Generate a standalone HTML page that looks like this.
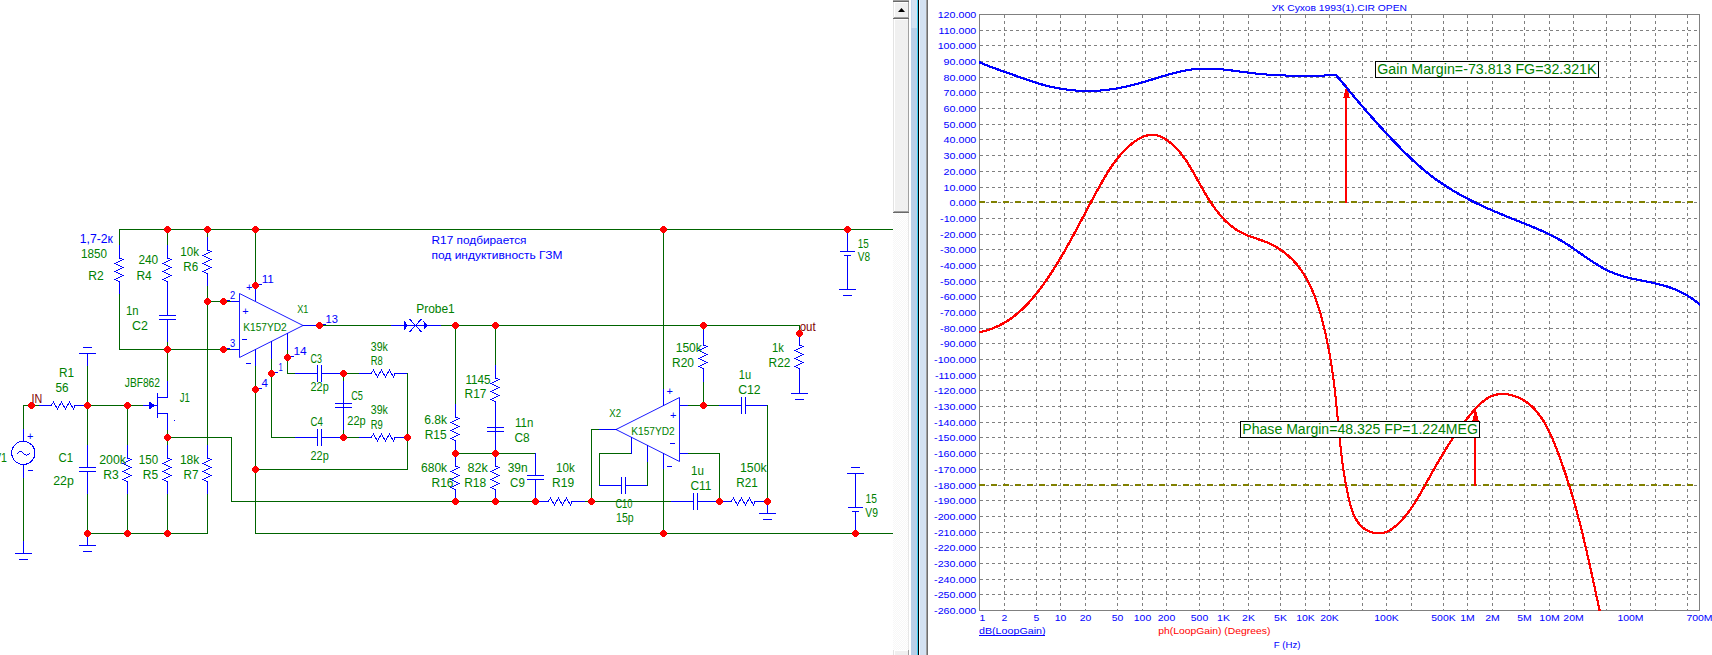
<!DOCTYPE html>
<html><head><meta charset="utf-8"><title>Micro-Cap</title>
<style>
html,body{margin:0;padding:0;background:#ffffff;width:1712px;height:655px;overflow:hidden}
svg{display:block}
text{font-family:"Liberation Sans",sans-serif}
</style></head><body>
<svg width="1712" height="655" viewBox="0 0 1712 655" font-family='"Liberation Sans", sans-serif'>
<rect x="0" y="0" width="1712" height="655" fill="#ffffff"/>
<g shape-rendering="crispEdges">
<rect x="119" y="229" width="774" height="1" fill="#006400"/>
<rect x="119" y="229" width="1" height="16" fill="#006400"/>
<rect x="119" y="294" width="1" height="56" fill="#006400"/>
<rect x="119" y="349" width="112" height="1" fill="#006400"/>
<rect x="231" y="349" width="8" height="1" fill="#0000ff"/>
<rect x="167" y="229" width="1" height="16" fill="#006400"/>
<rect x="167" y="342" width="1" height="39" fill="#006400"/>
<rect x="167" y="381" width="1" height="17" fill="#0000ff"/>
<rect x="157" y="397" width="11" height="1" fill="#0000ff"/>
<rect x="157" y="393" width="1" height="25" fill="#0000ff"/>
<rect x="157" y="413" width="11" height="1" fill="#0000ff"/>
<rect x="167" y="413" width="1" height="17" fill="#0000ff"/>
<rect x="167" y="430" width="1" height="15" fill="#006400"/>
<rect x="167" y="494" width="1" height="40" fill="#006400"/>
<rect x="167" y="437" width="65" height="1" fill="#006400"/>
<rect x="231" y="437" width="1" height="65" fill="#006400"/>
<rect x="231" y="501" width="305" height="1" fill="#006400"/>
<rect x="87" y="353" width="1" height="13" fill="#0000ff"/>
<rect x="87" y="366" width="1" height="79" fill="#006400"/>
<rect x="87" y="494" width="1" height="40" fill="#006400"/>
<rect x="87" y="533" width="1" height="13" fill="#0000ff"/>
<rect x="23" y="405" width="16" height="1" fill="#006400"/>
<rect x="87" y="405" width="56" height="1" fill="#006400"/>
<rect x="143" y="405" width="15" height="1" fill="#0000ff"/>
<rect x="23" y="405" width="1" height="24" fill="#006400"/>
<rect x="23" y="429" width="1" height="13" fill="#0000ff"/>
<rect x="23" y="464" width="1" height="14" fill="#0000ff"/>
<rect x="23" y="478" width="1" height="63" fill="#006400"/>
<rect x="23" y="541" width="1" height="13" fill="#0000ff"/>
<rect x="127" y="405" width="1" height="40" fill="#006400"/>
<rect x="127" y="494" width="1" height="40" fill="#006400"/>
<rect x="87" y="533" width="121" height="1" fill="#006400"/>
<rect x="207" y="229" width="1" height="8" fill="#006400"/>
<rect x="207" y="286" width="1" height="159" fill="#006400"/>
<rect x="207" y="494" width="1" height="40" fill="#006400"/>
<rect x="207" y="301" width="24" height="1" fill="#006400"/>
<rect x="231" y="301" width="8" height="1" fill="#0000ff"/>
<rect x="255" y="229" width="1" height="57" fill="#006400"/>
<rect x="255" y="286" width="1" height="15" fill="#0000ff"/>
<rect x="255" y="349" width="1" height="17" fill="#0000ff"/>
<rect x="255" y="366" width="1" height="168" fill="#006400"/>
<rect x="255" y="533" width="638" height="1" fill="#006400"/>
<rect x="271" y="341" width="1" height="18" fill="#0000ff"/>
<rect x="271" y="359" width="1" height="79" fill="#006400"/>
<rect x="271" y="437" width="24" height="1" fill="#006400"/>
<rect x="287" y="333" width="1" height="17" fill="#0000ff"/>
<rect x="287" y="350" width="1" height="24" fill="#006400"/>
<rect x="287" y="373" width="8" height="1" fill="#006400"/>
<rect x="295" y="373" width="23" height="1" fill="#0000ff"/>
<rect x="321" y="373" width="23" height="1" fill="#0000ff"/>
<rect x="317" y="365" width="1" height="17" fill="#0000ff"/>
<rect x="321" y="365" width="1" height="17" fill="#0000ff"/>
<rect x="295" y="437" width="23" height="1" fill="#0000ff"/>
<rect x="321" y="437" width="23" height="1" fill="#0000ff"/>
<rect x="317" y="429" width="1" height="17" fill="#0000ff"/>
<rect x="321" y="429" width="1" height="17" fill="#0000ff"/>
<rect x="343" y="373" width="1" height="8" fill="#006400"/>
<rect x="343" y="381" width="1" height="49" fill="#0000ff"/>
<rect x="343" y="430" width="1" height="8" fill="#006400"/>
<rect x="335" y="403" width="17" height="1" fill="#0000ff"/>
<rect x="335" y="407" width="17" height="1" fill="#0000ff"/>
<rect x="344" y="373" width="15" height="1" fill="#006400"/>
<rect x="344" y="437" width="15" height="1" fill="#006400"/>
<rect x="359" y="373" width="12" height="1" fill="#0000ff"/>
<polyline points="371.00,373.50 373.50,370.00 377.50,377.00 381.50,370.00 385.50,377.00 389.50,370.00 393.50,377.00 395.00,373.50" fill="none" stroke="#0000ff" stroke-width="1" stroke-linejoin="miter"/>
<rect x="395" y="373" width="13" height="1" fill="#0000ff"/>
<rect x="359" y="437" width="12" height="1" fill="#0000ff"/>
<polyline points="371.00,437.50 373.50,434.00 377.50,441.00 381.50,434.00 385.50,441.00 389.50,434.00 393.50,441.00 395.00,437.50" fill="none" stroke="#0000ff" stroke-width="1" stroke-linejoin="miter"/>
<rect x="395" y="437" width="13" height="1" fill="#0000ff"/>
<rect x="407" y="373" width="1" height="97" fill="#006400"/>
<rect x="255" y="469" width="153" height="1" fill="#006400"/>
<rect x="303" y="325" width="16" height="1" fill="#0000ff"/>
<rect x="319" y="325" width="72" height="1" fill="#006400"/>
<rect x="391" y="325" width="50" height="1" fill="#0000ff"/>
<rect x="441" y="325" width="359" height="1" fill="#006400"/>
<rect x="455" y="325" width="1" height="79" fill="#006400"/>
<rect x="455" y="404" width="1" height="13" fill="#0000ff"/>
<polyline points="455.50,417.00 459.00,418.50 451.00,422.50 459.00,426.50 451.00,430.50 459.00,434.50 451.00,438.50 455.50,441.00" fill="none" stroke="#0000ff" stroke-width="1" stroke-linejoin="miter"/>
<rect x="455" y="441" width="1" height="12" fill="#0000ff"/>
<rect x="455" y="453" width="1" height="13" fill="#0000ff"/>
<polyline points="455.50,466.00 459.00,467.50 451.00,471.50 459.00,475.50 451.00,479.50 459.00,483.50 451.00,487.50 455.50,490.00" fill="none" stroke="#0000ff" stroke-width="1" stroke-linejoin="miter"/>
<rect x="455" y="490" width="1" height="12" fill="#0000ff"/>
<rect x="495" y="453" width="1" height="13" fill="#0000ff"/>
<polyline points="495.50,466.00 499.00,467.50 491.00,471.50 499.00,475.50 491.00,479.50 499.00,483.50 491.00,487.50 495.50,490.00" fill="none" stroke="#0000ff" stroke-width="1" stroke-linejoin="miter"/>
<rect x="495" y="490" width="1" height="12" fill="#0000ff"/>
<rect x="455" y="453" width="81" height="1" fill="#006400"/>
<rect x="495" y="325" width="1" height="40" fill="#006400"/>
<rect x="495" y="365" width="1" height="13" fill="#0000ff"/>
<polyline points="495.50,378.00 499.00,379.50 491.00,383.50 499.00,387.50 491.00,391.50 499.00,395.50 491.00,399.50 495.50,402.00" fill="none" stroke="#0000ff" stroke-width="1" stroke-linejoin="miter"/>
<rect x="495" y="402" width="1" height="12" fill="#0000ff"/>
<rect x="495" y="413" width="1" height="41" fill="#0000ff"/>
<rect x="487" y="427" width="17" height="1" fill="#0000ff"/>
<rect x="487" y="431" width="17" height="1" fill="#0000ff"/>
<rect x="535" y="453" width="1" height="8" fill="#006400"/>
<rect x="535" y="453" width="1" height="23" fill="#0000ff"/>
<rect x="535" y="479" width="1" height="23" fill="#0000ff"/>
<rect x="527" y="475" width="17" height="1" fill="#0000ff"/>
<rect x="527" y="479" width="17" height="1" fill="#0000ff"/>
<rect x="536" y="501" width="12" height="1" fill="#0000ff"/>
<polyline points="548.00,501.50 550.50,498.00 554.50,505.00 558.50,498.00 562.50,505.00 566.50,498.00 570.50,505.00 572.00,501.50" fill="none" stroke="#0000ff" stroke-width="1" stroke-linejoin="miter"/>
<rect x="572" y="501" width="13" height="1" fill="#0000ff"/>
<rect x="585" y="501" width="7" height="1" fill="#006400"/>
<rect x="591" y="429" width="1" height="73" fill="#006400"/>
<rect x="591" y="429" width="8" height="1" fill="#006400"/>
<rect x="599" y="429" width="18" height="1" fill="#0000ff"/>
<rect x="663" y="229" width="1" height="160" fill="#006400"/>
<rect x="663" y="389" width="1" height="17" fill="#0000ff"/>
<rect x="663" y="453" width="1" height="16" fill="#0000ff"/>
<rect x="663" y="469" width="1" height="65" fill="#006400"/>
<rect x="680" y="405" width="8" height="1" fill="#0000ff"/>
<rect x="688" y="405" width="31" height="1" fill="#006400"/>
<rect x="719" y="405" width="23" height="1" fill="#0000ff"/>
<rect x="745" y="405" width="23" height="1" fill="#0000ff"/>
<rect x="741" y="397" width="1" height="17" fill="#0000ff"/>
<rect x="745" y="397" width="1" height="17" fill="#0000ff"/>
<rect x="767" y="405" width="1" height="97" fill="#006400"/>
<rect x="680" y="453" width="8" height="1" fill="#0000ff"/>
<rect x="688" y="453" width="32" height="1" fill="#006400"/>
<rect x="719" y="453" width="1" height="49" fill="#006400"/>
<rect x="631" y="437" width="1" height="17" fill="#0000ff"/>
<rect x="599" y="453" width="32" height="1" fill="#006400"/>
<rect x="599" y="453" width="1" height="33" fill="#006400"/>
<rect x="599" y="485" width="23" height="1" fill="#0000ff"/>
<rect x="625" y="485" width="23" height="1" fill="#0000ff"/>
<rect x="621" y="477" width="1" height="17" fill="#0000ff"/>
<rect x="625" y="477" width="1" height="17" fill="#0000ff"/>
<rect x="647" y="445" width="1" height="17" fill="#0000ff"/>
<rect x="647" y="462" width="1" height="24" fill="#006400"/>
<rect x="592" y="501" width="79" height="1" fill="#006400"/>
<rect x="671" y="501" width="23" height="1" fill="#0000ff"/>
<rect x="697" y="501" width="23" height="1" fill="#0000ff"/>
<rect x="693" y="493" width="1" height="17" fill="#0000ff"/>
<rect x="697" y="493" width="1" height="17" fill="#0000ff"/>
<rect x="719" y="501" width="12" height="1" fill="#0000ff"/>
<polyline points="731.00,501.50 733.50,498.00 737.50,505.00 741.50,498.00 745.50,505.00 749.50,498.00 753.50,505.00 755.00,501.50" fill="none" stroke="#0000ff" stroke-width="1" stroke-linejoin="miter"/>
<rect x="755" y="501" width="13" height="1" fill="#0000ff"/>
<rect x="767" y="501" width="1" height="13" fill="#0000ff"/>
<rect x="703" y="325" width="1" height="5" fill="#006400"/>
<rect x="703" y="330" width="1" height="15" fill="#0000ff"/>
<polyline points="703.50,345.00 707.00,346.50 699.00,350.50 707.00,354.50 699.00,358.50 707.00,362.50 699.00,366.50 703.50,369.00" fill="none" stroke="#0000ff" stroke-width="1" stroke-linejoin="miter"/>
<rect x="703" y="369" width="1" height="13" fill="#0000ff"/>
<rect x="703" y="382" width="1" height="24" fill="#006400"/>
<rect x="799" y="325" width="1" height="8" fill="#006400"/>
<rect x="799" y="333" width="1" height="12" fill="#0000ff"/>
<polyline points="799.50,345.00 803.00,346.50 795.00,350.50 803.00,354.50 795.00,358.50 803.00,362.50 795.00,366.50 799.50,369.00" fill="none" stroke="#0000ff" stroke-width="1" stroke-linejoin="miter"/>
<rect x="799" y="369" width="1" height="25" fill="#0000ff"/>
<rect x="847" y="229" width="1" height="23" fill="#0000ff"/>
<rect x="840" y="251" width="15" height="1" fill="#0000ff"/>
<rect x="844" y="255" width="7" height="1" fill="#0000ff"/>
<rect x="847" y="255" width="1" height="35" fill="#0000ff"/>
<rect x="855" y="473" width="1" height="35" fill="#0000ff"/>
<rect x="848" y="507" width="15" height="1" fill="#0000ff"/>
<rect x="852" y="511" width="7" height="1" fill="#0000ff"/>
<rect x="855" y="511" width="1" height="23" fill="#0000ff"/>
<rect x="39" y="405" width="12" height="1" fill="#0000ff"/>
<polyline points="51.00,405.50 53.50,402.00 57.50,409.00 61.50,402.00 65.50,409.00 69.50,402.00 73.50,409.00 75.00,405.50" fill="none" stroke="#0000ff" stroke-width="1" stroke-linejoin="miter"/>
<rect x="75" y="405" width="13" height="1" fill="#0000ff"/>
<rect x="119" y="245" width="1" height="13" fill="#0000ff"/>
<polyline points="119.50,258.00 123.00,259.50 115.00,263.50 123.00,267.50 115.00,271.50 123.00,275.50 115.00,279.50 119.50,282.00" fill="none" stroke="#0000ff" stroke-width="1" stroke-linejoin="miter"/>
<rect x="119" y="282" width="1" height="12" fill="#0000ff"/>
<rect x="167" y="245" width="1" height="13" fill="#0000ff"/>
<polyline points="167.50,258.00 171.00,259.50 163.00,263.50 171.00,267.50 163.00,271.50 171.00,275.50 163.00,279.50 167.50,282.00" fill="none" stroke="#0000ff" stroke-width="1" stroke-linejoin="miter"/>
<rect x="167" y="282" width="1" height="12" fill="#0000ff"/>
<rect x="207" y="237" width="1" height="13" fill="#0000ff"/>
<polyline points="207.50,250.00 211.00,251.50 203.00,255.50 211.00,259.50 203.00,263.50 211.00,267.50 203.00,271.50 207.50,274.00" fill="none" stroke="#0000ff" stroke-width="1" stroke-linejoin="miter"/>
<rect x="207" y="274" width="1" height="12" fill="#0000ff"/>
<rect x="127" y="445" width="1" height="13" fill="#0000ff"/>
<polyline points="127.50,458.00 131.00,459.50 123.00,463.50 131.00,467.50 123.00,471.50 131.00,475.50 123.00,479.50 127.50,482.00" fill="none" stroke="#0000ff" stroke-width="1" stroke-linejoin="miter"/>
<rect x="127" y="482" width="1" height="12" fill="#0000ff"/>
<rect x="167" y="445" width="1" height="13" fill="#0000ff"/>
<polyline points="167.50,458.00 171.00,459.50 163.00,463.50 171.00,467.50 163.00,471.50 171.00,475.50 163.00,479.50 167.50,482.00" fill="none" stroke="#0000ff" stroke-width="1" stroke-linejoin="miter"/>
<rect x="167" y="482" width="1" height="12" fill="#0000ff"/>
<rect x="207" y="445" width="1" height="13" fill="#0000ff"/>
<polyline points="207.50,458.00 211.00,459.50 203.00,463.50 211.00,467.50 203.00,471.50 211.00,475.50 203.00,479.50 207.50,482.00" fill="none" stroke="#0000ff" stroke-width="1" stroke-linejoin="miter"/>
<rect x="207" y="482" width="1" height="12" fill="#0000ff"/>
<rect x="167" y="293" width="1" height="23" fill="#0000ff"/>
<rect x="167" y="319" width="1" height="23" fill="#0000ff"/>
<rect x="159" y="315" width="17" height="1" fill="#0000ff"/>
<rect x="159" y="319" width="17" height="1" fill="#0000ff"/>
<rect x="87" y="445" width="1" height="23" fill="#0000ff"/>
<rect x="87" y="471" width="1" height="23" fill="#0000ff"/>
<rect x="79" y="467" width="17" height="1" fill="#0000ff"/>
<rect x="79" y="471" width="17" height="1" fill="#0000ff"/>
<rect x="79" y="353" width="17" height="1" fill="#0000ff"/>
<rect x="83" y="347" width="9" height="1" fill="#0000ff"/>
<rect x="79" y="545" width="17" height="1" fill="#0000ff"/>
<rect x="83" y="551" width="9" height="1" fill="#0000ff"/>
<rect x="15" y="553" width="17" height="1" fill="#0000ff"/>
<rect x="19" y="559" width="9" height="1" fill="#0000ff"/>
<rect x="759" y="513" width="17" height="1" fill="#0000ff"/>
<rect x="763" y="519" width="9" height="1" fill="#0000ff"/>
<rect x="791" y="393" width="17" height="1" fill="#0000ff"/>
<rect x="795" y="399" width="9" height="1" fill="#0000ff"/>
<rect x="839" y="289" width="17" height="1" fill="#0000ff"/>
<rect x="843" y="295" width="9" height="1" fill="#0000ff"/>
<rect x="847" y="473" width="17" height="1" fill="#0000ff"/>
<rect x="851" y="467" width="9" height="1" fill="#0000ff"/>
</g>
<g shape-rendering="crispEdges">
<polyline points="239.50,293.50 303.00,325.50 239.50,357.50 239.50,293.50" fill="none" stroke="#0000ff" stroke-width="0.9" stroke-linejoin="bevel"/>
<polyline points="679.50,397.50 616.00,429.50 679.50,461.50 679.50,397.50" fill="none" stroke="#0000ff" stroke-width="0.9" stroke-linejoin="bevel"/>
<path d="M149 401.5 L155 405.5 L149 409.5 Z" fill="#0000ff"/>
<polyline points="404.00,321.50 407.50,325.50 404.00,329.50" fill="#0000ff" stroke="#0000ff" stroke-width="1" stroke-linejoin="miter"/>
<polyline points="423.50,321.50 427.00,325.50 423.50,329.50" fill="#0000ff" stroke="#0000ff" stroke-width="1" stroke-linejoin="miter"/>
<line x1="409.5" y1="319" x2="421.5" y2="332" stroke="#0000ff" stroke-width="1"/>
<line x1="409.5" y1="332" x2="421.5" y2="319" stroke="#0000ff" stroke-width="1"/>
</g>
<circle cx="23.3" cy="452.9" r="11.6" fill="none" stroke="#0000ff" stroke-width="1" shape-rendering="crispEdges"/>
<path d="M17.2 453.6 Q20.5 449.3 23.5 453.3 T29.8 453" fill="none" stroke="#0000ff" stroke-width="1" shape-rendering="crispEdges"/>
<rect x="174" y="420" width="1" height="1" fill="#0000ff"/>
<path d="M166 226h3v1h1v1h1v3h-1v1h-1v1h-3v-1h-1v-1h-1v-3h1v-1h1z" fill="#ff0000"/>
<path d="M206 226h3v1h1v1h1v3h-1v1h-1v1h-3v-1h-1v-1h-1v-3h1v-1h1z" fill="#ff0000"/>
<path d="M254 226h3v1h1v1h1v3h-1v1h-1v1h-3v-1h-1v-1h-1v-3h1v-1h1z" fill="#ff0000"/>
<path d="M662 226h3v1h1v1h1v3h-1v1h-1v1h-3v-1h-1v-1h-1v-3h1v-1h1z" fill="#ff0000"/>
<path d="M846 226h3v1h1v1h1v3h-1v1h-1v1h-3v-1h-1v-1h-1v-3h1v-1h1z" fill="#ff0000"/>
<path d="M206 298h3v1h1v1h1v3h-1v1h-1v1h-3v-1h-1v-1h-1v-3h1v-1h1z" fill="#ff0000"/>
<path d="M222 298h3v1h1v1h1v3h-1v1h-1v1h-3v-1h-1v-1h-1v-3h1v-1h1z" fill="#ff0000"/>
<path d="M254 282h3v1h1v1h1v3h-1v1h-1v1h-3v-1h-1v-1h-1v-3h1v-1h1z" fill="#ff0000"/>
<path d="M166 346h3v1h1v1h1v3h-1v1h-1v1h-3v-1h-1v-1h-1v-3h1v-1h1z" fill="#ff0000"/>
<path d="M222 346h3v1h1v1h1v3h-1v1h-1v1h-3v-1h-1v-1h-1v-3h1v-1h1z" fill="#ff0000"/>
<path d="M30 402h3v1h1v1h1v3h-1v1h-1v1h-3v-1h-1v-1h-1v-3h1v-1h1z" fill="#ff0000"/>
<path d="M86 402h3v1h1v1h1v3h-1v1h-1v1h-3v-1h-1v-1h-1v-3h1v-1h1z" fill="#ff0000"/>
<path d="M126 402h3v1h1v1h1v3h-1v1h-1v1h-3v-1h-1v-1h-1v-3h1v-1h1z" fill="#ff0000"/>
<path d="M166 434h3v1h1v1h1v3h-1v1h-1v1h-3v-1h-1v-1h-1v-3h1v-1h1z" fill="#ff0000"/>
<path d="M86 530h3v1h1v1h1v3h-1v1h-1v1h-3v-1h-1v-1h-1v-3h1v-1h1z" fill="#ff0000"/>
<path d="M126 530h3v1h1v1h1v3h-1v1h-1v1h-3v-1h-1v-1h-1v-3h1v-1h1z" fill="#ff0000"/>
<path d="M166 530h3v1h1v1h1v3h-1v1h-1v1h-3v-1h-1v-1h-1v-3h1v-1h1z" fill="#ff0000"/>
<path d="M318 322h3v1h1v1h1v3h-1v1h-1v1h-3v-1h-1v-1h-1v-3h1v-1h1z" fill="#ff0000"/>
<path d="M454 322h3v1h1v1h1v3h-1v1h-1v1h-3v-1h-1v-1h-1v-3h1v-1h1z" fill="#ff0000"/>
<path d="M494 322h3v1h1v1h1v3h-1v1h-1v1h-3v-1h-1v-1h-1v-3h1v-1h1z" fill="#ff0000"/>
<path d="M702 322h3v1h1v1h1v3h-1v1h-1v1h-3v-1h-1v-1h-1v-3h1v-1h1z" fill="#ff0000"/>
<path d="M798 330h3v1h1v1h1v3h-1v1h-1v1h-3v-1h-1v-1h-1v-3h1v-1h1z" fill="#ff0000"/>
<path d="M286 354h3v1h1v1h1v3h-1v1h-1v1h-3v-1h-1v-1h-1v-3h1v-1h1z" fill="#ff0000"/>
<path d="M270 370h3v1h1v1h1v3h-1v1h-1v1h-3v-1h-1v-1h-1v-3h1v-1h1z" fill="#ff0000"/>
<path d="M254 386h3v1h1v1h1v3h-1v1h-1v1h-3v-1h-1v-1h-1v-3h1v-1h1z" fill="#ff0000"/>
<path d="M342 370h3v1h1v1h1v3h-1v1h-1v1h-3v-1h-1v-1h-1v-3h1v-1h1z" fill="#ff0000"/>
<path d="M342 434h3v1h1v1h1v3h-1v1h-1v1h-3v-1h-1v-1h-1v-3h1v-1h1z" fill="#ff0000"/>
<path d="M406 434h3v1h1v1h1v3h-1v1h-1v1h-3v-1h-1v-1h-1v-3h1v-1h1z" fill="#ff0000"/>
<path d="M254 466h3v1h1v1h1v3h-1v1h-1v1h-3v-1h-1v-1h-1v-3h1v-1h1z" fill="#ff0000"/>
<path d="M454 450h3v1h1v1h1v3h-1v1h-1v1h-3v-1h-1v-1h-1v-3h1v-1h1z" fill="#ff0000"/>
<path d="M494 450h3v1h1v1h1v3h-1v1h-1v1h-3v-1h-1v-1h-1v-3h1v-1h1z" fill="#ff0000"/>
<path d="M454 498h3v1h1v1h1v3h-1v1h-1v1h-3v-1h-1v-1h-1v-3h1v-1h1z" fill="#ff0000"/>
<path d="M494 498h3v1h1v1h1v3h-1v1h-1v1h-3v-1h-1v-1h-1v-3h1v-1h1z" fill="#ff0000"/>
<path d="M534 498h3v1h1v1h1v3h-1v1h-1v1h-3v-1h-1v-1h-1v-3h1v-1h1z" fill="#ff0000"/>
<path d="M590 498h3v1h1v1h1v3h-1v1h-1v1h-3v-1h-1v-1h-1v-3h1v-1h1z" fill="#ff0000"/>
<path d="M702 402h3v1h1v1h1v3h-1v1h-1v1h-3v-1h-1v-1h-1v-3h1v-1h1z" fill="#ff0000"/>
<path d="M718 498h3v1h1v1h1v3h-1v1h-1v1h-3v-1h-1v-1h-1v-3h1v-1h1z" fill="#ff0000"/>
<path d="M766 498h3v1h1v1h1v3h-1v1h-1v1h-3v-1h-1v-1h-1v-3h1v-1h1z" fill="#ff0000"/>
<path d="M662 530h3v1h1v1h1v3h-1v1h-1v1h-3v-1h-1v-1h-1v-3h1v-1h1z" fill="#ff0000"/>
<path d="M854 530h3v1h1v1h1v3h-1v1h-1v1h-3v-1h-1v-1h-1v-3h1v-1h1z" fill="#ff0000"/>
<rect x="259" y="284" width="3" height="1" fill="#0000ff"/>
<rect x="291" y="356" width="3" height="1" fill="#0000ff"/>
<rect x="275" y="372" width="3" height="1" fill="#0000ff"/>
<rect x="259" y="388" width="3" height="1" fill="#0000ff"/>
<rect x="323" y="324" width="3" height="1" fill="#0000ff"/>
<rect x="227" y="300" width="3" height="1" fill="#0000ff"/>
<rect x="227" y="348" width="3" height="1" fill="#0000ff"/>
<g font-family='"Liberation Sans", sans-serif'>
<text x="249.3" y="290.9" font-size="11" fill="#0000ff" text-anchor="middle">+</text>
<text x="245.4" y="314.8" font-size="11" fill="#0000ff" text-anchor="middle">+</text>
<text x="669.6" y="394.5" font-size="11" fill="#0000ff" text-anchor="middle">+</text>
<text x="673.3" y="418.9" font-size="11" fill="#0000ff" text-anchor="middle">+</text>
<text x="30.2" y="440.0" font-size="11" fill="#0000ff" text-anchor="middle">+</text>
<rect x="246" y="363" width="5" height="1" fill="#0000ff"/>
<rect x="242" y="339" width="5" height="1" fill="#0000ff"/>
<rect x="667" y="466" width="5" height="1" fill="#0000ff"/>
<rect x="670" y="443" width="5" height="1" fill="#0000ff"/>
<rect x="28" y="470" width="5" height="1" fill="#0000ff"/>
<text x="79.8" y="242.7" font-size="12" fill="#0000ff" text-anchor="start" textLength="33.1" lengthAdjust="spacingAndGlyphs">1,7-2к</text>
<text x="81.0" y="257.8" font-size="12" fill="#008000" text-anchor="start" textLength="26.0" lengthAdjust="spacingAndGlyphs">1850</text>
<text x="88.2" y="280.0" font-size="12" fill="#008000" text-anchor="start" textLength="15.5" lengthAdjust="spacingAndGlyphs">R2</text>
<text x="138.4" y="264.0" font-size="12" fill="#008000" text-anchor="start" textLength="19.8" lengthAdjust="spacingAndGlyphs">240</text>
<text x="136.4" y="279.8" font-size="12" fill="#008000" text-anchor="start" textLength="15.3" lengthAdjust="spacingAndGlyphs">R4</text>
<text x="180.2" y="255.9" font-size="12" fill="#008000" text-anchor="start" textLength="18.8" lengthAdjust="spacingAndGlyphs">10k</text>
<text x="183.3" y="270.7" font-size="12" fill="#008000" text-anchor="start" textLength="14.9" lengthAdjust="spacingAndGlyphs">R6</text>
<text x="125.9" y="314.8" font-size="12" fill="#008000" text-anchor="start" textLength="12.6" lengthAdjust="spacingAndGlyphs">1n</text>
<text x="132.0" y="330.1" font-size="12" fill="#008000" text-anchor="start" textLength="15.9" lengthAdjust="spacingAndGlyphs">C2</text>
<text x="59.1" y="377.0" font-size="12" fill="#008000" text-anchor="start" textLength="15.1" lengthAdjust="spacingAndGlyphs">R1</text>
<text x="55.4" y="391.7" font-size="12" fill="#008000" text-anchor="start" textLength="13.1" lengthAdjust="spacingAndGlyphs">56</text>
<text x="31.6" y="402.5" font-size="12" fill="#800000" text-anchor="start" textLength="10.7" lengthAdjust="spacingAndGlyphs">IN</text>
<text x="124.8" y="387.0" font-size="12" fill="#008000" text-anchor="start" textLength="35.1" lengthAdjust="spacingAndGlyphs">JBF862</text>
<text x="179.7" y="402.1" font-size="12" fill="#008000" text-anchor="start" textLength="10.1" lengthAdjust="spacingAndGlyphs">J1</text>
<text x="58.5" y="461.7" font-size="12" fill="#008000" text-anchor="start" textLength="14.5" lengthAdjust="spacingAndGlyphs">C1</text>
<text x="53.2" y="484.9" font-size="12" fill="#008000" text-anchor="start" textLength="20.6" lengthAdjust="spacingAndGlyphs">22p</text>
<text x="99.2" y="464.1" font-size="12" fill="#008000" text-anchor="start" textLength="26.8" lengthAdjust="spacingAndGlyphs">200k</text>
<text x="103.2" y="478.9" font-size="12" fill="#008000" text-anchor="start" textLength="15.5" lengthAdjust="spacingAndGlyphs">R3</text>
<text x="138.8" y="463.9" font-size="12" fill="#008000" text-anchor="start" textLength="19.3" lengthAdjust="spacingAndGlyphs">150</text>
<text x="142.8" y="478.9" font-size="12" fill="#008000" text-anchor="start" textLength="15.3" lengthAdjust="spacingAndGlyphs">R5</text>
<text x="179.9" y="463.9" font-size="12" fill="#008000" text-anchor="start" textLength="19.5" lengthAdjust="spacingAndGlyphs">18k</text>
<text x="183.5" y="478.9" font-size="12" fill="#008000" text-anchor="start" textLength="14.9" lengthAdjust="spacingAndGlyphs">R7</text>
<text x="-6.0" y="462.1" font-size="12" fill="#008000" text-anchor="start" textLength="13.0" lengthAdjust="spacingAndGlyphs">V1</text>
<text x="229.9" y="299.0" font-size="11" fill="#0000ff" text-anchor="start" textLength="5.2" lengthAdjust="spacingAndGlyphs">2</text>
<text x="229.9" y="346.9" font-size="11" fill="#0000ff" text-anchor="start" textLength="5.2" lengthAdjust="spacingAndGlyphs">3</text>
<text x="261.7" y="283.2" font-size="11" fill="#0000ff" text-anchor="start" textLength="12.2" lengthAdjust="spacingAndGlyphs">11</text>
<text x="261.4" y="386.7" font-size="11" fill="#0000ff" text-anchor="start" textLength="6.4" lengthAdjust="spacingAndGlyphs">4</text>
<text x="278.5" y="370.6" font-size="11" fill="#0000ff" text-anchor="start" textLength="4.3" lengthAdjust="spacingAndGlyphs">1</text>
<text x="293.4" y="354.6" font-size="11" fill="#0000ff" text-anchor="start" textLength="13.3" lengthAdjust="spacingAndGlyphs">14</text>
<text x="325.6" y="322.7" font-size="11" fill="#0000ff" text-anchor="start" textLength="12.4" lengthAdjust="spacingAndGlyphs">13</text>
<text x="243.2" y="330.9" font-size="11" fill="#008000" text-anchor="start" textLength="43.6" lengthAdjust="spacingAndGlyphs">K157YD2</text>
<text x="297.2" y="312.9" font-size="11" fill="#008000" text-anchor="start" textLength="11.2" lengthAdjust="spacingAndGlyphs">X1</text>
<text x="310.5" y="362.5" font-size="12" fill="#008000" text-anchor="start" textLength="11.4" lengthAdjust="spacingAndGlyphs">C3</text>
<text x="310.5" y="391.3" font-size="12" fill="#008000" text-anchor="start" textLength="18.2" lengthAdjust="spacingAndGlyphs">22p</text>
<text x="310.5" y="425.5" font-size="12" fill="#008000" text-anchor="start" textLength="12.4" lengthAdjust="spacingAndGlyphs">C4</text>
<text x="310.5" y="459.7" font-size="12" fill="#008000" text-anchor="start" textLength="18.2" lengthAdjust="spacingAndGlyphs">22p</text>
<text x="351.2" y="399.5" font-size="12" fill="#008000" text-anchor="start" textLength="11.7" lengthAdjust="spacingAndGlyphs">C5</text>
<text x="347.3" y="424.5" font-size="12" fill="#008000" text-anchor="start" textLength="18.4" lengthAdjust="spacingAndGlyphs">22p</text>
<text x="370.8" y="350.7" font-size="12" fill="#008000" text-anchor="start" textLength="17.1" lengthAdjust="spacingAndGlyphs">39k</text>
<text x="370.8" y="364.6" font-size="12" fill="#008000" text-anchor="start" textLength="12.0" lengthAdjust="spacingAndGlyphs">R8</text>
<text x="370.8" y="414.4" font-size="12" fill="#008000" text-anchor="start" textLength="17.1" lengthAdjust="spacingAndGlyphs">39k</text>
<text x="370.8" y="428.7" font-size="12" fill="#008000" text-anchor="start" textLength="12.0" lengthAdjust="spacingAndGlyphs">R9</text>
<text x="416.2" y="313.2" font-size="12" fill="#008000" text-anchor="start" textLength="38.6" lengthAdjust="spacingAndGlyphs">Probe1</text>
<text x="465.4" y="384.1" font-size="12" fill="#008000" text-anchor="start" textLength="25.2" lengthAdjust="spacingAndGlyphs">1145</text>
<text x="464.6" y="398.4" font-size="12" fill="#008000" text-anchor="start" textLength="21.8" lengthAdjust="spacingAndGlyphs">R17</text>
<text x="424.2" y="423.9" font-size="12" fill="#008000" text-anchor="start" textLength="22.9" lengthAdjust="spacingAndGlyphs">6.8k</text>
<text x="424.7" y="439.2" font-size="12" fill="#008000" text-anchor="start" textLength="21.9" lengthAdjust="spacingAndGlyphs">R15</text>
<text x="421.0" y="471.7" font-size="12" fill="#008000" text-anchor="start" textLength="26.1" lengthAdjust="spacingAndGlyphs">680k</text>
<text x="431.5" y="486.9" font-size="12" fill="#008000" text-anchor="start" textLength="22.0" lengthAdjust="spacingAndGlyphs">R16</text>
<text x="467.4" y="471.7" font-size="12" fill="#008000" text-anchor="start" textLength="20.3" lengthAdjust="spacingAndGlyphs">82k</text>
<text x="464.2" y="486.9" font-size="12" fill="#008000" text-anchor="start" textLength="22.0" lengthAdjust="spacingAndGlyphs">R18</text>
<text x="515.0" y="427.0" font-size="12" fill="#008000" text-anchor="start" textLength="18.3" lengthAdjust="spacingAndGlyphs">11n</text>
<text x="514.5" y="441.7" font-size="12" fill="#008000" text-anchor="start" textLength="15.2" lengthAdjust="spacingAndGlyphs">C8</text>
<text x="507.7" y="471.7" font-size="12" fill="#008000" text-anchor="start" textLength="20.0" lengthAdjust="spacingAndGlyphs">39n</text>
<text x="510.1" y="486.9" font-size="12" fill="#008000" text-anchor="start" textLength="14.7" lengthAdjust="spacingAndGlyphs">C9</text>
<text x="556.0" y="471.7" font-size="12" fill="#008000" text-anchor="start" textLength="18.8" lengthAdjust="spacingAndGlyphs">10k</text>
<text x="552.1" y="486.9" font-size="12" fill="#008000" text-anchor="start" textLength="22.0" lengthAdjust="spacingAndGlyphs">R19</text>
<text x="609.3" y="416.8" font-size="11" fill="#008000" text-anchor="start" textLength="11.7" lengthAdjust="spacingAndGlyphs">X2</text>
<text x="631.3" y="434.8" font-size="11" fill="#008000" text-anchor="start" textLength="43.4" lengthAdjust="spacingAndGlyphs">K157YD2</text>
<text x="615.4" y="508.3" font-size="12" fill="#008000" text-anchor="start" textLength="17.1" lengthAdjust="spacingAndGlyphs">C10</text>
<text x="616.1" y="522.3" font-size="12" fill="#008000" text-anchor="start" textLength="17.6" lengthAdjust="spacingAndGlyphs">15p</text>
<text x="691.1" y="475.1" font-size="12" fill="#008000" text-anchor="start" textLength="12.9" lengthAdjust="spacingAndGlyphs">1u</text>
<text x="690.4" y="489.8" font-size="12" fill="#008000" text-anchor="start" textLength="21.0" lengthAdjust="spacingAndGlyphs">C11</text>
<text x="740.0" y="471.7" font-size="12" fill="#008000" text-anchor="start" textLength="26.8" lengthAdjust="spacingAndGlyphs">150k</text>
<text x="736.3" y="486.9" font-size="12" fill="#008000" text-anchor="start" textLength="21.5" lengthAdjust="spacingAndGlyphs">R21</text>
<text x="738.2" y="394.1" font-size="12" fill="#008000" text-anchor="start" textLength="22.5" lengthAdjust="spacingAndGlyphs">C12</text>
<text x="738.8" y="379.2" font-size="12" fill="#008000" text-anchor="start" textLength="12.3" lengthAdjust="spacingAndGlyphs">1u</text>
<text x="675.7" y="351.8" font-size="12" fill="#008000" text-anchor="start" textLength="26.2" lengthAdjust="spacingAndGlyphs">150k</text>
<text x="672.1" y="366.7" font-size="12" fill="#008000" text-anchor="start" textLength="21.9" lengthAdjust="spacingAndGlyphs">R20</text>
<text x="772.0" y="352.2" font-size="12" fill="#008000" text-anchor="start" textLength="11.8" lengthAdjust="spacingAndGlyphs">1k</text>
<text x="768.6" y="366.7" font-size="12" fill="#008000" text-anchor="start" textLength="21.8" lengthAdjust="spacingAndGlyphs">R22</text>
<text x="799.7" y="330.7" font-size="12" fill="#800000" text-anchor="start" textLength="15.9" lengthAdjust="spacingAndGlyphs">out</text>
<text x="857.7" y="247.7" font-size="12" fill="#008000" text-anchor="start" textLength="11.0" lengthAdjust="spacingAndGlyphs">15</text>
<text x="857.7" y="261.4" font-size="12" fill="#008000" text-anchor="start" textLength="12.3" lengthAdjust="spacingAndGlyphs">V8</text>
<text x="865.6" y="503.3" font-size="12" fill="#008000" text-anchor="start" textLength="11.4" lengthAdjust="spacingAndGlyphs">15</text>
<text x="865.3" y="517.3" font-size="12" fill="#008000" text-anchor="start" textLength="12.6" lengthAdjust="spacingAndGlyphs">V9</text>
<text x="431.5" y="243.7" font-size="11" fill="#0000ff" text-anchor="start" textLength="95.0" lengthAdjust="spacingAndGlyphs">R17 подбирается</text>
<text x="431.5" y="258.9" font-size="11" fill="#0000ff" text-anchor="start" textLength="131.0" lengthAdjust="spacingAndGlyphs">под индуктивность ГЗМ</text>
</g>
<defs><pattern id="chk" width="2" height="2" patternUnits="userSpaceOnUse"><rect width="2" height="2" fill="#f7f7f7"/><rect width="1" height="1" fill="#ffffff"/><rect x="1" y="1" width="1" height="1" fill="#ffffff"/></pattern></defs>
<g shape-rendering="crispEdges">
<rect x="893" y="0" width="16" height="655" fill="url(#chk)"/>
<rect x="908" y="0" width="1" height="655" fill="#e6e6e6"/>
<rect x="893" y="0" width="16" height="1" fill="#a0a0a0"/>
<rect x="893" y="1" width="16" height="1" fill="#696969"/>
<rect x="893" y="2" width="16" height="17" fill="#f0f0f0"/>
<rect x="893" y="2" width="15" height="1" fill="#ffffff"/>
<rect x="893" y="2" width="1" height="16" fill="#e3e3e3"/>
<rect x="894" y="3" width="1" height="14" fill="#ffffff"/>
<rect x="908" y="2" width="1" height="17" fill="#a0a0a0"/>
<rect x="894" y="17" width="15" height="1" fill="#a0a0a0"/>
<rect x="893" y="18" width="16" height="1" fill="#696969"/>
<path d="M898 12 L901.5 8 L905 12 Z" fill="#000000" shape-rendering="auto"/>
<rect x="893" y="19" width="16" height="194" fill="#f0f0f0"/>
<rect x="893" y="19" width="15" height="1" fill="#ffffff"/>
<rect x="893" y="19" width="1" height="193" fill="#e3e3e3"/>
<rect x="894" y="20" width="1" height="191" fill="#ffffff"/>
<rect x="908" y="19" width="1" height="194" fill="#a0a0a0"/>
<rect x="894" y="211" width="15" height="1" fill="#a0a0a0"/>
<rect x="893" y="212" width="16" height="1" fill="#696969"/>
<rect x="893" y="650" width="16" height="21" fill="#f0f0f0"/>
<rect x="893" y="650" width="15" height="1" fill="#ffffff"/>
<rect x="893" y="650" width="1" height="20" fill="#e3e3e3"/>
<rect x="894" y="651" width="1" height="18" fill="#ffffff"/>
<rect x="908" y="650" width="1" height="21" fill="#a0a0a0"/>
<rect x="894" y="669" width="15" height="1" fill="#a0a0a0"/>
<rect x="893" y="670" width="16" height="1" fill="#696969"/>
<rect x="909" y="0" width="2" height="655" fill="#ffffff"/>
<rect x="911" y="0" width="6" height="28" fill="#d3e1f1"/>
<rect x="911" y="28" width="6" height="627" fill="#b9cfe8"/>
<rect x="911" y="0" width="1" height="28" fill="#c4d6ec"/>
<rect x="917" y="0" width="1" height="655" fill="#3cd0f4"/>
<rect x="918" y="0" width="1" height="655" fill="#000000"/>
<rect x="919" y="0" width="1" height="655" fill="#f4f8fc"/>
<rect x="920" y="0" width="6" height="655" fill="#d4e2f2"/>
<rect x="926" y="0" width="1" height="655" fill="#a0a0a0"/>
<rect x="927" y="0" width="1" height="655" fill="#6e6e6e"/>
</g>
<g shape-rendering="crispEdges">
<line x1="1004.5" y1="15" x2="1004.5" y2="610" stroke="#808080" stroke-dasharray="3 3"/>
<line x1="1036.5" y1="15" x2="1036.5" y2="610" stroke="#808080" stroke-dasharray="3 3"/>
<line x1="1060.5" y1="15" x2="1060.5" y2="610" stroke="#808080" stroke-dasharray="3 3"/>
<line x1="1085.5" y1="15" x2="1085.5" y2="610" stroke="#808080" stroke-dasharray="3 3"/>
<line x1="1117.5" y1="15" x2="1117.5" y2="610" stroke="#808080" stroke-dasharray="3 3"/>
<line x1="1142.5" y1="15" x2="1142.5" y2="610" stroke="#808080" stroke-dasharray="3 3"/>
<line x1="1166.5" y1="15" x2="1166.5" y2="610" stroke="#808080" stroke-dasharray="3 3"/>
<line x1="1199.5" y1="15" x2="1199.5" y2="610" stroke="#808080" stroke-dasharray="3 3"/>
<line x1="1223.5" y1="15" x2="1223.5" y2="610" stroke="#808080" stroke-dasharray="3 3"/>
<line x1="1248.5" y1="15" x2="1248.5" y2="610" stroke="#808080" stroke-dasharray="3 3"/>
<line x1="1280.5" y1="15" x2="1280.5" y2="610" stroke="#808080" stroke-dasharray="3 3"/>
<line x1="1305.5" y1="15" x2="1305.5" y2="610" stroke="#808080" stroke-dasharray="3 3"/>
<line x1="1329.5" y1="15" x2="1329.5" y2="610" stroke="#808080" stroke-dasharray="3 3"/>
<line x1="1362.5" y1="15" x2="1362.5" y2="610" stroke="#808080" stroke-dasharray="3 3"/>
<line x1="1386.5" y1="15" x2="1386.5" y2="610" stroke="#808080" stroke-dasharray="3 3"/>
<line x1="1411.5" y1="15" x2="1411.5" y2="610" stroke="#808080" stroke-dasharray="3 3"/>
<line x1="1443.5" y1="15" x2="1443.5" y2="610" stroke="#808080" stroke-dasharray="3 3"/>
<line x1="1467.5" y1="15" x2="1467.5" y2="610" stroke="#808080" stroke-dasharray="3 3"/>
<line x1="1492.5" y1="15" x2="1492.5" y2="610" stroke="#808080" stroke-dasharray="3 3"/>
<line x1="1524.5" y1="15" x2="1524.5" y2="610" stroke="#808080" stroke-dasharray="3 3"/>
<line x1="1549.5" y1="15" x2="1549.5" y2="610" stroke="#808080" stroke-dasharray="3 3"/>
<line x1="1573.5" y1="15" x2="1573.5" y2="610" stroke="#808080" stroke-dasharray="3 3"/>
<line x1="1606.5" y1="15" x2="1606.5" y2="610" stroke="#808080" stroke-dasharray="3 3"/>
<line x1="1630.5" y1="15" x2="1630.5" y2="610" stroke="#808080" stroke-dasharray="3 3"/>
<line x1="1655.5" y1="15" x2="1655.5" y2="610" stroke="#808080" stroke-dasharray="3 3"/>
<line x1="1687.5" y1="15" x2="1687.5" y2="610" stroke="#808080" stroke-dasharray="3 3"/>
<line x1="980" y1="30.5" x2="1699" y2="30.5" stroke="#808080" stroke-dasharray="3 3"/>
<line x1="980" y1="45.5" x2="1699" y2="45.5" stroke="#808080" stroke-dasharray="3 3"/>
<line x1="980" y1="61.5" x2="1699" y2="61.5" stroke="#808080" stroke-dasharray="3 3"/>
<line x1="980" y1="77.5" x2="1699" y2="77.5" stroke="#808080" stroke-dasharray="3 3"/>
<line x1="980" y1="92.5" x2="1699" y2="92.5" stroke="#808080" stroke-dasharray="3 3"/>
<line x1="980" y1="108.5" x2="1699" y2="108.5" stroke="#808080" stroke-dasharray="3 3"/>
<line x1="980" y1="124.5" x2="1699" y2="124.5" stroke="#808080" stroke-dasharray="3 3"/>
<line x1="980" y1="139.5" x2="1699" y2="139.5" stroke="#808080" stroke-dasharray="3 3"/>
<line x1="980" y1="155.5" x2="1699" y2="155.5" stroke="#808080" stroke-dasharray="3 3"/>
<line x1="980" y1="171.5" x2="1699" y2="171.5" stroke="#808080" stroke-dasharray="3 3"/>
<line x1="980" y1="187.5" x2="1699" y2="187.5" stroke="#808080" stroke-dasharray="3 3"/>
<line x1="980" y1="202.5" x2="1699" y2="202.5" stroke="#808080" stroke-dasharray="3 3"/>
<line x1="980" y1="218.5" x2="1699" y2="218.5" stroke="#808080" stroke-dasharray="3 3"/>
<line x1="980" y1="234.5" x2="1699" y2="234.5" stroke="#808080" stroke-dasharray="3 3"/>
<line x1="980" y1="249.5" x2="1699" y2="249.5" stroke="#808080" stroke-dasharray="3 3"/>
<line x1="980" y1="265.5" x2="1699" y2="265.5" stroke="#808080" stroke-dasharray="3 3"/>
<line x1="980" y1="281.5" x2="1699" y2="281.5" stroke="#808080" stroke-dasharray="3 3"/>
<line x1="980" y1="296.5" x2="1699" y2="296.5" stroke="#808080" stroke-dasharray="3 3"/>
<line x1="980" y1="312.5" x2="1699" y2="312.5" stroke="#808080" stroke-dasharray="3 3"/>
<line x1="980" y1="328.5" x2="1699" y2="328.5" stroke="#808080" stroke-dasharray="3 3"/>
<line x1="980" y1="343.5" x2="1699" y2="343.5" stroke="#808080" stroke-dasharray="3 3"/>
<line x1="980" y1="359.5" x2="1699" y2="359.5" stroke="#808080" stroke-dasharray="3 3"/>
<line x1="980" y1="375.5" x2="1699" y2="375.5" stroke="#808080" stroke-dasharray="3 3"/>
<line x1="980" y1="390.5" x2="1699" y2="390.5" stroke="#808080" stroke-dasharray="3 3"/>
<line x1="980" y1="406.5" x2="1699" y2="406.5" stroke="#808080" stroke-dasharray="3 3"/>
<line x1="980" y1="422.5" x2="1699" y2="422.5" stroke="#808080" stroke-dasharray="3 3"/>
<line x1="980" y1="437.5" x2="1699" y2="437.5" stroke="#808080" stroke-dasharray="3 3"/>
<line x1="980" y1="453.5" x2="1699" y2="453.5" stroke="#808080" stroke-dasharray="3 3"/>
<line x1="980" y1="469.5" x2="1699" y2="469.5" stroke="#808080" stroke-dasharray="3 3"/>
<line x1="980" y1="485.5" x2="1699" y2="485.5" stroke="#808080" stroke-dasharray="3 3"/>
<line x1="980" y1="500.5" x2="1699" y2="500.5" stroke="#808080" stroke-dasharray="3 3"/>
<line x1="980" y1="516.5" x2="1699" y2="516.5" stroke="#808080" stroke-dasharray="3 3"/>
<line x1="980" y1="532.5" x2="1699" y2="532.5" stroke="#808080" stroke-dasharray="3 3"/>
<line x1="980" y1="547.5" x2="1699" y2="547.5" stroke="#808080" stroke-dasharray="3 3"/>
<line x1="980" y1="563.5" x2="1699" y2="563.5" stroke="#808080" stroke-dasharray="3 3"/>
<line x1="980" y1="579.5" x2="1699" y2="579.5" stroke="#808080" stroke-dasharray="3 3"/>
<line x1="980" y1="594.5" x2="1699" y2="594.5" stroke="#808080" stroke-dasharray="3 3"/>
<rect x="979.5" y="14.5" width="720" height="596" fill="none" stroke="#808080"/>
<line x1="979" y1="202" x2="1699" y2="202" stroke="#808000" stroke-width="2" stroke-dasharray="6 6"/>
<line x1="979" y1="485" x2="1699" y2="485" stroke="#808000" stroke-width="2" stroke-dasharray="6 6"/>
</g>
<g fill="#ff0000" shape-rendering="crispEdges">
<rect x="1345" y="98" width="2" height="105"/>
<rect x="1343" y="97" width="7" height="1"/>
<rect x="1344" y="93" width="5" height="4"/>
<rect x="1345" y="89" width="3" height="4"/>
<rect x="1346" y="85" width="1" height="4"/>
</g>
<g fill="#ff0000" shape-rendering="crispEdges">
<rect x="1474" y="421" width="2" height="65"/>
<rect x="1472" y="420" width="7" height="1"/>
<rect x="1473" y="416" width="5" height="4"/>
<rect x="1474" y="412" width="3" height="4"/>
<rect x="1475" y="408" width="1" height="4"/>
</g>
<clipPath id="plot"><rect x="979" y="14" width="721" height="597"/></clipPath>
<g clip-path="url(#plot)">
<path id="cb" d="M978.97 61.78 L980.35 62.37 L981.72 62.95 L983.10 63.52 L984.49 64.09 L985.87 64.64 L987.26 65.19 L988.65 65.72 L990.05 66.25 L991.44 66.78 L992.84 67.30 L994.24 67.81 L995.64 68.33 L997.04 68.83 L998.44 69.34 L999.85 69.84 L1001.25 70.34 L1002.66 70.84 L1004.06 71.34 L1005.47 71.84 L1006.88 72.33 L1008.28 72.83 L1009.69 73.32 L1011.10 73.82 L1012.51 74.32 L1013.92 74.81 L1015.33 75.31 L1016.73 75.81 L1018.14 76.31 L1019.55 76.80 L1020.96 77.30 L1022.38 77.80 L1023.79 78.29 L1025.20 78.78 L1026.61 79.27 L1028.03 79.75 L1029.45 80.23 L1030.87 80.70 L1032.29 81.17 L1033.71 81.63 L1035.13 82.08 L1036.56 82.53 L1037.99 82.97 L1039.42 83.39 L1040.85 83.81 L1042.29 84.22 L1043.73 84.61 L1045.17 85.00 L1046.62 85.37 L1048.07 85.73 L1049.52 86.07 L1050.98 86.41 L1052.44 86.73 L1053.90 87.03 L1055.36 87.33 L1056.83 87.61 L1058.30 87.87 L1059.77 88.13 L1061.25 88.37 L1062.73 88.60 L1064.20 88.81 L1065.68 89.01 L1067.17 89.20 L1068.65 89.38 L1070.14 89.54 L1071.62 89.69 L1073.11 89.83 L1074.60 89.95 L1076.09 90.06 L1077.58 90.15 L1079.07 90.24 L1080.57 90.31 L1082.06 90.36 L1083.55 90.41 L1085.05 90.44 L1086.54 90.45 L1088.04 90.45 L1089.53 90.44 L1091.02 90.42 L1092.52 90.38 L1094.01 90.33 L1095.50 90.27 L1096.99 90.19 L1098.49 90.10 L1099.98 89.99 L1101.46 89.87 L1102.95 89.74 L1104.44 89.60 L1105.92 89.44 L1107.41 89.26 L1108.89 89.08 L1110.37 88.88 L1111.85 88.66 L1113.32 88.44 L1114.80 88.20 L1116.27 87.95 L1117.74 87.68 L1119.21 87.41 L1120.68 87.12 L1122.14 86.82 L1123.61 86.52 L1125.07 86.20 L1126.53 85.87 L1127.98 85.53 L1129.44 85.19 L1130.89 84.83 L1132.34 84.47 L1133.79 84.09 L1135.23 83.72 L1136.68 83.33 L1138.12 82.93 L1139.56 82.53 L1141.00 82.13 L1142.43 81.71 L1143.86 81.29 L1145.29 80.87 L1146.72 80.44 L1148.15 80.01 L1149.58 79.58 L1151.01 79.14 L1152.43 78.71 L1153.86 78.27 L1155.28 77.83 L1156.71 77.39 L1158.14 76.96 L1159.57 76.52 L1161.00 76.09 L1162.43 75.66 L1163.87 75.23 L1165.30 74.81 L1166.74 74.40 L1168.18 73.99 L1169.63 73.59 L1171.07 73.20 L1172.52 72.81 L1173.97 72.43 L1175.42 72.07 L1176.87 71.71 L1178.32 71.37 L1179.78 71.04 L1181.24 70.73 L1182.70 70.42 L1184.17 70.14 L1185.63 69.86 L1187.10 69.61 L1188.57 69.37 L1190.05 69.15 L1191.52 68.95 L1193.00 68.77 L1194.48 68.61 L1195.97 68.46 L1197.45 68.34 L1198.94 68.24 L1200.43 68.15 L1201.92 68.09 L1203.41 68.04 L1204.90 68.02 L1206.39 68.01 L1207.88 68.03 L1209.37 68.06 L1210.86 68.11 L1212.35 68.17 L1213.85 68.25 L1215.34 68.35 L1216.83 68.45 L1218.32 68.57 L1219.81 68.71 L1221.29 68.85 L1222.78 69.00 L1224.27 69.15 L1225.75 69.32 L1227.24 69.49 L1228.72 69.67 L1230.21 69.85 L1231.69 70.04 L1233.17 70.23 L1234.66 70.42 L1236.14 70.62 L1237.62 70.81 L1239.10 71.01 L1240.58 71.21 L1242.07 71.41 L1243.55 71.61 L1245.03 71.80 L1246.51 71.99 L1247.99 72.18 L1249.48 72.36 L1250.96 72.54 L1252.44 72.72 L1253.93 72.89 L1255.41 73.05 L1256.90 73.20 L1258.39 73.35 L1259.87 73.49 L1261.36 73.62 L1262.85 73.75 L1264.34 73.87 L1265.83 73.99 L1267.32 74.10 L1268.81 74.20 L1270.30 74.30 L1271.79 74.40 L1273.28 74.48 L1274.77 74.57 L1276.26 74.65 L1277.76 74.72 L1279.25 74.79 L1280.74 74.86 L1282.24 74.92 L1283.73 74.98 L1285.22 75.03 L1286.72 75.09 L1288.21 75.13 L1289.70 75.18 L1291.20 75.22 L1292.69 75.26 L1294.18 75.29 L1295.68 75.32 L1297.17 75.35 L1298.67 75.37 L1300.16 75.38 L1301.65 75.40 L1303.15 75.41 L1304.64 75.41 L1306.14 75.41 L1307.63 75.40 L1309.12 75.39 L1310.62 75.38 L1312.11 75.36 L1313.60 75.33 L1315.10 75.30 L1316.59 75.27 L1318.08 75.23 L1319.58 75.18 L1321.07 75.13 L1322.56 75.07 L1324.05 75.00 L1325.55 74.93 L1327.04 74.86 L1328.53 74.77 L1330.02 74.68 L1331.51 74.59 L1333.00 74.49 L1334.50 74.38" fill="none" stroke="#0000ff" stroke-width="1.0" stroke-linejoin="round" shape-rendering="crispEdges"/>
<use href="#cb" x="1" y="0"/>
<use href="#cb" x="0" y="1"/>
<use href="#cb" x="1" y="1"/>
<path id="cb2" d="M1334.95 73.95 L1335.92 75.07 L1336.89 76.20 L1337.85 77.33 L1338.82 78.46 L1339.78 79.60 L1340.73 80.74 L1341.69 81.88 L1342.65 83.03 L1343.60 84.17 L1344.55 85.32 L1345.50 86.47 L1346.46 87.62 L1347.41 88.77 L1348.36 89.93 L1349.31 91.08 L1350.27 92.23 L1351.22 93.37 L1352.18 94.52 L1353.14 95.67 L1354.10 96.81 L1355.06 97.95 L1356.03 99.10 L1356.99 100.23 L1357.96 101.37 L1358.93 102.51 L1359.90 103.64 L1360.87 104.78 L1361.84 105.91 L1362.82 107.04 L1363.80 108.17 L1364.77 109.30 L1365.75 110.43 L1366.74 111.55 L1367.72 112.68 L1368.71 113.80 L1369.69 114.92 L1370.68 116.04 L1371.67 117.16 L1372.67 118.28 L1373.66 119.39 L1374.66 120.51 L1375.65 121.62 L1376.65 122.74 L1377.65 123.85 L1378.66 124.96 L1379.66 126.07 L1380.67 127.17 L1381.68 128.28 L1382.69 129.39 L1383.70 130.49 L1384.71 131.59 L1385.73 132.70 L1386.75 133.80 L1387.77 134.90 L1388.79 136.00 L1389.81 137.09 L1390.84 138.19 L1391.87 139.28 L1392.90 140.37 L1393.93 141.46 L1394.97 142.54 L1396.01 143.62 L1397.05 144.70 L1398.10 145.78 L1399.15 146.85 L1400.20 147.93 L1401.25 148.99 L1402.31 150.05 L1403.37 151.11 L1404.44 152.17 L1405.51 153.22 L1406.58 154.27 L1407.66 155.31 L1408.74 156.34 L1409.82 157.38 L1410.91 158.40 L1412.01 159.43 L1413.11 160.44 L1414.21 161.45 L1415.32 162.46 L1416.43 163.46 L1417.55 164.45 L1418.67 165.44 L1419.79 166.42 L1420.93 167.39 L1422.06 168.36 L1423.21 169.32 L1424.36 170.27 L1425.51 171.22 L1426.67 172.16 L1427.83 173.09 L1429.01 174.01 L1430.18 174.93 L1431.37 175.84 L1432.55 176.74 L1433.75 177.63 L1434.95 178.51 L1436.16 179.38 L1437.37 180.25 L1438.59 181.10 L1439.82 181.95 L1441.05 182.79 L1442.29 183.63 L1443.53 184.45 L1444.78 185.27 L1446.04 186.08 L1447.30 186.88 L1448.56 187.67 L1449.83 188.46 L1451.10 189.24 L1452.38 190.01 L1453.67 190.78 L1454.96 191.53 L1456.25 192.29 L1457.55 193.03 L1458.85 193.77 L1460.16 194.50 L1461.47 195.22 L1462.78 195.94 L1464.10 196.65 L1465.42 197.35 L1466.75 198.05 L1468.08 198.74 L1469.41 199.43 L1470.74 200.11 L1472.08 200.78 L1473.43 201.45 L1474.77 202.11 L1476.12 202.77 L1477.47 203.42 L1478.82 204.06 L1480.18 204.70 L1481.54 205.34 L1482.90 205.97 L1484.26 206.59 L1485.63 207.21 L1486.99 207.83 L1488.36 208.44 L1489.74 209.04 L1491.11 209.64 L1492.48 210.24 L1493.86 210.83 L1495.24 211.42 L1496.61 212.00 L1497.99 212.58 L1499.37 213.16 L1500.76 213.73 L1502.14 214.30 L1503.52 214.87 L1504.91 215.44 L1506.29 216.00 L1507.68 216.56 L1509.07 217.12 L1510.45 217.68 L1511.84 218.23 L1513.23 218.79 L1514.62 219.34 L1516.00 219.90 L1517.39 220.45 L1518.78 221.01 L1520.17 221.56 L1521.56 222.12 L1522.94 222.67 L1524.33 223.23 L1525.72 223.79 L1527.10 224.35 L1528.49 224.91 L1529.87 225.48 L1531.26 226.04 L1532.64 226.62 L1534.02 227.19 L1535.39 227.77 L1536.77 228.36 L1538.14 228.95 L1539.51 229.55 L1540.88 230.15 L1542.24 230.76 L1543.60 231.38 L1544.95 232.01 L1546.31 232.64 L1547.66 233.28 L1549.00 233.94 L1550.34 234.60 L1551.67 235.27 L1553.00 235.95 L1554.33 236.65 L1555.64 237.35 L1556.96 238.07 L1558.26 238.80 L1559.57 239.54 L1560.86 240.30 L1562.15 241.07 L1563.43 241.85 L1564.71 242.65 L1565.98 243.46 L1567.24 244.27 L1568.50 245.10 L1569.76 245.93 L1571.01 246.77 L1572.27 247.62 L1573.51 248.47 L1574.76 249.33 L1576.00 250.19 L1577.24 251.05 L1578.48 251.92 L1579.72 252.78 L1580.96 253.65 L1582.20 254.51 L1583.44 255.38 L1584.68 256.24 L1585.92 257.09 L1587.16 257.94 L1588.40 258.79 L1589.65 259.63 L1590.90 260.46 L1592.15 261.29 L1593.41 262.10 L1594.67 262.90 L1595.93 263.70 L1597.20 264.48 L1598.48 265.25 L1599.76 266.00 L1601.04 266.74 L1602.34 267.46 L1603.64 268.17 L1604.94 268.86 L1606.26 269.53 L1607.58 270.18 L1608.91 270.81 L1610.25 271.42 L1611.60 272.01 L1612.95 272.58 L1614.32 273.12 L1615.70 273.63 L1617.09 274.13 L1618.48 274.60 L1619.89 275.05 L1621.30 275.49 L1622.72 275.90 L1624.15 276.30 L1625.59 276.68 L1627.03 277.05 L1628.47 277.41 L1629.92 277.75 L1631.38 278.08 L1632.84 278.41 L1634.30 278.72 L1635.77 279.03 L1637.24 279.33 L1638.71 279.63 L1640.19 279.92 L1641.66 280.21 L1643.14 280.51 L1644.61 280.80 L1646.09 281.09 L1647.56 281.38 L1649.03 281.68 L1650.51 281.99 L1651.97 282.30 L1653.44 282.61 L1654.90 282.94 L1656.36 283.28 L1657.82 283.62 L1659.27 283.98 L1660.72 284.35 L1662.16 284.74 L1663.59 285.14 L1665.02 285.56 L1666.44 286.00 L1667.85 286.46 L1669.25 286.94 L1670.65 287.43 L1672.04 287.95 L1673.42 288.48 L1674.79 289.04 L1676.16 289.62 L1677.51 290.22 L1678.86 290.83 L1680.19 291.48 L1681.52 292.14 L1682.84 292.82 L1684.15 293.53 L1685.44 294.26 L1686.73 295.01 L1688.01 295.79 L1689.28 296.58 L1690.53 297.41 L1691.78 298.25 L1693.01 299.13 L1694.24 300.02 L1695.45 300.94 L1696.65 301.89 L1697.83 302.86 L1699.01 303.85 L1700.17 304.88 L1701.33 305.92" fill="none" stroke="#0000ff" stroke-width="1.0" stroke-linejoin="round" shape-rendering="crispEdges"/>
<use href="#cb2" x="1" y="0"/>
<use href="#cb2" x="0" y="1"/>
<use href="#cb2" x="1" y="1"/>
<path id="cr" d="M978.65 331.78 L980.23 331.46 L981.79 331.10 L983.32 330.72 L984.85 330.31 L986.35 329.87 L987.83 329.41 L989.30 328.92 L990.75 328.40 L992.19 327.86 L993.60 327.30 L995.00 326.71 L996.39 326.09 L997.75 325.45 L999.10 324.79 L1000.44 324.11 L1001.76 323.40 L1003.06 322.67 L1004.35 321.92 L1005.62 321.15 L1006.88 320.36 L1008.12 319.55 L1009.35 318.72 L1010.57 317.87 L1011.77 317.01 L1012.96 316.12 L1014.13 315.22 L1015.29 314.30 L1016.44 313.36 L1017.58 312.40 L1018.70 311.43 L1019.81 310.45 L1020.91 309.45 L1021.99 308.43 L1023.07 307.40 L1024.13 306.36 L1025.18 305.31 L1026.22 304.24 L1027.25 303.16 L1028.27 302.06 L1029.28 300.96 L1030.28 299.84 L1031.27 298.72 L1032.24 297.58 L1033.21 296.44 L1034.17 295.28 L1035.12 294.12 L1036.06 292.94 L1036.99 291.76 L1037.92 290.58 L1038.83 289.38 L1039.74 288.18 L1040.64 286.98 L1041.53 285.76 L1042.42 284.55 L1043.30 283.32 L1044.17 282.10 L1045.03 280.87 L1045.89 279.63 L1046.74 278.40 L1047.58 277.16 L1048.42 275.92 L1049.25 274.67 L1050.08 273.42 L1050.90 272.17 L1051.72 270.91 L1052.52 269.66 L1053.33 268.40 L1054.13 267.13 L1054.92 265.87 L1055.71 264.60 L1056.50 263.33 L1057.28 262.06 L1058.05 260.78 L1058.82 259.50 L1059.59 258.22 L1060.35 256.94 L1061.11 255.65 L1061.86 254.37 L1062.61 253.08 L1063.36 251.79 L1064.10 250.50 L1064.84 249.20 L1065.58 247.90 L1066.31 246.60 L1067.05 245.30 L1067.77 244.00 L1068.50 242.70 L1069.22 241.39 L1069.94 240.09 L1070.66 238.78 L1071.38 237.47 L1072.09 236.16 L1072.80 234.85 L1073.51 233.53 L1074.22 232.22 L1074.93 230.90 L1075.63 229.58 L1076.34 228.27 L1077.04 226.95 L1077.75 225.63 L1078.45 224.31 L1079.15 222.99 L1079.85 221.66 L1080.55 220.34 L1081.25 219.02 L1081.95 217.69 L1082.65 216.37 L1083.35 215.04 L1084.05 213.72 L1084.75 212.39 L1085.45 211.06 L1086.15 209.74 L1086.85 208.41 L1087.56 207.08 L1088.26 205.76 L1088.97 204.43 L1089.67 203.10 L1090.38 201.77 L1091.09 200.45 L1091.80 199.12 L1092.51 197.79 L1093.23 196.47 L1093.95 195.14 L1094.67 193.82 L1095.39 192.49 L1096.11 191.17 L1096.84 189.84 L1097.57 188.52 L1098.30 187.20 L1099.04 185.87 L1099.78 184.55 L1100.52 183.23 L1101.27 181.92 L1102.02 180.60 L1102.77 179.29 L1103.54 177.98 L1104.31 176.67 L1105.08 175.37 L1105.87 174.07 L1106.66 172.78 L1107.46 171.50 L1108.27 170.22 L1109.09 168.94 L1109.92 167.68 L1110.76 166.42 L1111.62 165.17 L1112.48 163.93 L1113.36 162.70 L1114.25 161.48 L1115.16 160.27 L1116.08 159.07 L1117.01 157.88 L1117.97 156.70 L1118.93 155.54 L1119.92 154.39 L1120.92 153.25 L1121.94 152.13 L1122.97 151.02 L1124.03 149.92 L1125.11 148.84 L1126.20 147.78 L1127.32 146.74 L1128.46 145.71 L1129.62 144.69 L1130.80 143.70 L1132.00 142.74 L1133.22 141.81 L1134.46 140.91 L1135.71 140.05 L1136.97 139.23 L1138.26 138.46 L1139.55 137.74 L1140.85 137.08 L1142.17 136.48 L1143.49 135.95 L1144.82 135.48 L1146.16 135.09 L1147.51 134.78 L1148.86 134.54 L1150.21 134.40 L1151.56 134.34 L1152.92 134.38 L1154.27 134.52 L1155.62 134.76 L1156.97 135.08 L1158.31 135.49 L1159.65 135.98 L1160.97 136.55 L1162.29 137.19 L1163.59 137.89 L1164.88 138.65 L1166.15 139.47 L1167.40 140.34 L1168.63 141.25 L1169.84 142.20 L1171.03 143.19 L1172.18 144.21 L1173.32 145.25 L1174.42 146.31 L1175.49 147.39 L1176.54 148.48 L1177.56 149.60 L1178.56 150.73 L1179.53 151.87 L1180.48 153.04 L1181.41 154.21 L1182.32 155.41 L1183.21 156.61 L1184.08 157.83 L1184.94 159.06 L1185.78 160.30 L1186.60 161.55 L1187.41 162.82 L1188.21 164.09 L1189.00 165.37 L1189.78 166.66 L1190.55 167.96 L1191.32 169.27 L1192.07 170.58 L1192.82 171.90 L1193.57 173.22 L1194.32 174.55 L1195.06 175.88 L1195.80 177.22 L1196.55 178.56 L1197.29 179.90 L1198.04 181.24 L1198.78 182.58 L1199.54 183.92 L1200.29 185.26 L1201.05 186.60 L1201.81 187.94 L1202.57 189.28 L1203.34 190.61 L1204.12 191.94 L1204.90 193.26 L1205.69 194.58 L1206.48 195.89 L1207.29 197.20 L1208.09 198.50 L1208.91 199.79 L1209.74 201.07 L1210.57 202.34 L1211.41 203.60 L1212.27 204.85 L1213.13 206.09 L1214.01 207.32 L1214.89 208.53 L1215.79 209.73 L1216.70 210.91 L1217.62 212.09 L1218.56 213.24 L1219.50 214.38 L1220.47 215.50 L1221.44 216.60 L1222.44 217.69 L1223.44 218.76 L1224.46 219.80 L1225.50 220.83 L1226.56 221.84 L1227.63 222.82 L1228.72 223.78 L1229.83 224.72 L1230.95 225.63 L1232.10 226.52 L1233.26 227.39 L1234.45 228.23 L1235.65 229.04 L1236.87 229.82 L1238.12 230.58 L1239.39 231.31 L1240.68 232.01 L1241.99 232.68 L1243.32 233.32 L1244.68 233.93 L1246.06 234.51 L1247.45 235.07 L1248.86 235.61 L1250.29 236.14 L1251.72 236.65 L1253.16 237.15 L1254.61 237.65 L1256.07 238.14 L1257.52 238.64 L1258.97 239.14 L1260.43 239.64 L1261.87 240.16 L1263.31 240.69 L1264.74 241.24 L1266.16 241.81 L1267.57 242.41 L1268.96 243.03 L1270.33 243.68 L1271.69 244.35 L1273.03 245.05 L1274.35 245.77 L1275.66 246.51 L1276.95 247.28 L1278.22 248.08 L1279.48 248.89 L1280.71 249.73 L1281.93 250.59 L1283.13 251.47 L1284.31 252.38 L1285.47 253.30 L1286.61 254.24 L1287.73 255.21 L1288.83 256.19 L1289.90 257.19 L1290.96 258.21 L1292.00 259.25 L1293.01 260.31 L1294.00 261.39 L1294.98 262.48 L1295.93 263.58 L1296.86 264.71 L1297.78 265.85 L1298.67 267.01 L1299.55 268.18 L1300.41 269.36 L1301.25 270.56 L1302.07 271.78 L1302.87 273.01 L1303.66 274.25 L1304.43 275.50 L1305.18 276.77 L1305.92 278.05 L1306.64 279.34 L1307.34 280.65 L1308.03 281.96 L1308.70 283.29 L1309.36 284.62 L1310.01 285.97 L1310.64 287.33 L1311.25 288.69 L1311.86 290.06 L1312.44 291.45 L1313.02 292.84 L1313.58 294.24 L1314.14 295.64 L1314.68 297.06 L1315.20 298.48 L1315.72 299.90 L1316.22 301.34 L1316.72 302.78 L1317.20 304.22 L1317.67 305.67 L1318.14 307.12 L1318.59 308.58 L1319.03 310.04 L1319.47 311.51 L1319.90 312.97 L1320.32 314.45 L1320.73 315.92 L1321.13 317.39 L1321.52 318.87 L1321.91 320.35 L1322.29 321.83 L1322.67 323.31 L1323.03 324.79 L1323.40 326.27 L1323.75 327.75 L1324.10 329.23 L1324.45 330.71 L1324.79 332.19 L1325.12 333.67 L1325.45 335.15 L1325.77 336.63 L1326.08 338.11 L1326.39 339.59 L1326.70 341.07 L1327.00 342.55 L1327.30 344.03 L1327.59 345.52 L1327.87 347.00 L1328.15 348.48 L1328.43 349.96 L1328.70 351.44 L1328.96 352.92 L1329.22 354.40 L1329.48 355.88 L1329.73 357.36 L1329.98 358.84 L1330.22 360.32 L1330.46 361.80 L1330.70 363.28 L1330.93 364.76 L1331.15 366.24 L1331.38 367.72 L1331.60 369.20 L1331.81 370.68 L1332.02 372.16 L1332.23 373.64 L1332.44 375.12 L1332.64 376.60 L1332.84 378.08 L1333.03 379.56 L1333.22 381.04 L1333.41 382.52 L1333.60 384.00 L1333.78 385.48 L1333.96 386.95 L1334.13 388.43 L1334.31 389.91 L1334.48 391.39 L1334.65 392.87 L1334.81 394.34 L1334.98 395.82 L1335.14 397.30 L1335.30 398.77 L1335.46 400.25 L1335.61 401.72 L1335.76 403.20 L1335.91 404.67 L1336.06 406.15 L1336.21 407.62 L1336.36 409.10 L1336.50 410.57 L1336.64 412.05 L1336.78 413.52 L1336.93 415.00 L1337.07 416.47 L1337.21 417.94 L1337.35 419.42 L1337.48 420.89 L1337.62 422.37 L1337.76 423.84 L1337.90 425.31 L1338.04 426.79 L1338.18 428.26 L1338.32 429.74 L1338.46 431.22 L1338.61 432.69 L1338.75 434.17 L1338.90 435.65 L1339.04 437.13 L1339.19 438.60 L1339.34 440.08 L1339.50 441.56 L1339.65 443.04 L1339.81 444.53 L1339.97 446.01 L1340.13 447.49 L1340.30 448.98 L1340.47 450.46 L1340.64 451.95 L1340.81 453.43 L1340.99 454.92 L1341.17 456.41 L1341.36 457.90 L1341.55 459.39 L1341.74 460.89 L1341.94 462.38 L1342.15 463.88 L1342.36 465.37 L1342.57 466.87 L1342.79 468.37 L1343.01 469.87 L1343.24 471.37 L1343.47 472.88 L1343.71 474.38 L1343.96 475.89 L1344.21 477.40 L1344.47 478.91 L1344.73 480.42 L1345.00 481.94 L1345.28 483.45 L1345.56 484.97 L1345.85 486.49 L1346.15 488.01 L1346.46 489.54 L1346.77 491.07 L1347.09 492.59 L1347.42 494.12 L1347.76 495.66 L1348.10 497.19 L1348.46 498.73 L1348.82 500.26 L1349.20 501.79 L1349.59 503.32 L1350.01 504.83 L1350.44 506.33 L1350.89 507.82 L1351.37 509.29 L1351.87 510.74 L1352.40 512.17 L1352.96 513.58 L1353.56 514.95 L1354.19 516.30 L1354.85 517.61 L1355.56 518.88 L1356.30 520.12 L1357.09 521.32 L1357.93 522.47 L1358.81 523.58 L1359.74 524.63 L1360.72 525.64 L1361.76 526.59 L1362.85 527.49 L1363.99 528.32 L1365.17 529.10 L1366.40 529.80 L1367.65 530.45 L1368.94 531.02 L1370.26 531.52 L1371.60 531.94 L1372.96 532.29 L1374.32 532.56 L1375.70 532.75 L1377.09 532.85 L1378.47 532.87 L1379.85 532.79 L1381.22 532.62 L1382.58 532.36 L1383.92 532.01 L1385.25 531.56 L1386.57 531.04 L1387.86 530.43 L1389.14 529.76 L1390.41 529.01 L1391.65 528.20 L1392.88 527.33 L1394.09 526.40 L1395.29 525.43 L1396.46 524.41 L1397.61 523.34 L1398.75 522.25 L1399.86 521.12 L1400.95 519.96 L1402.02 518.78 L1403.07 517.58 L1404.10 516.38 L1405.10 515.16 L1406.08 513.93 L1407.05 512.70 L1407.99 511.46 L1408.91 510.21 L1409.82 508.95 L1410.71 507.69 L1411.58 506.42 L1412.43 505.15 L1413.27 503.87 L1414.10 502.59 L1414.92 501.30 L1415.72 500.01 L1416.51 498.72 L1417.29 497.43 L1418.06 496.13 L1418.82 494.83 L1419.58 493.53 L1420.32 492.22 L1421.07 490.92 L1421.80 489.62 L1422.53 488.32 L1423.26 487.01 L1423.99 485.71 L1424.71 484.42 L1425.43 483.12 L1426.15 481.82 L1426.87 480.53 L1427.59 479.24 L1428.31 477.95 L1429.03 476.66 L1429.75 475.37 L1430.47 474.09 L1431.19 472.81 L1431.91 471.52 L1432.63 470.24 L1433.35 468.97 L1434.07 467.69 L1434.80 466.42 L1435.53 465.14 L1436.25 463.87 L1436.99 462.60 L1437.72 461.33 L1438.46 460.07 L1439.20 458.80 L1439.94 457.54 L1440.68 456.28 L1441.43 455.02 L1442.19 453.76 L1442.95 452.50 L1443.71 451.25 L1444.47 449.99 L1445.25 448.74 L1446.02 447.49 L1446.80 446.24 L1447.59 444.99 L1448.38 443.75 L1449.18 442.50 L1449.99 441.26 L1450.80 440.02 L1451.62 438.78 L1452.45 437.54 L1453.28 436.30 L1454.12 435.06 L1454.96 433.83 L1455.82 432.60 L1456.68 431.37 L1457.55 430.13 L1458.44 428.91 L1459.32 427.68 L1460.22 426.45 L1461.13 425.23 L1462.05 424.00 L1462.97 422.78 L1463.91 421.56 L1464.85 420.34 L1465.81 419.12 L1466.78 417.91 L1467.75 416.69 L1468.74 415.48 L1469.74 414.26 L1470.76 413.05 L1471.78 411.84 L1472.81 410.64 L1473.86 409.44 L1474.93 408.26 L1476.00 407.10 L1477.10 405.96 L1478.20 404.84 L1479.33 403.75 L1480.47 402.70 L1481.63 401.69 L1482.80 400.71 L1484.00 399.79 L1485.22 398.91 L1486.45 398.08 L1487.71 397.32 L1488.99 396.61 L1490.29 395.98 L1491.61 395.41 L1492.96 394.91 L1494.33 394.50 L1495.72 394.15 L1497.13 393.89 L1498.55 393.69 L1499.99 393.57 L1501.44 393.51 L1502.90 393.52 L1504.35 393.59 L1505.81 393.72 L1507.27 393.91 L1508.72 394.16 L1510.16 394.46 L1511.59 394.81 L1513.00 395.21 L1514.39 395.65 L1515.77 396.14 L1517.12 396.68 L1518.44 397.25 L1519.74 397.86 L1521.00 398.51 L1522.25 399.20 L1523.46 399.92 L1524.65 400.68 L1525.82 401.48 L1526.96 402.31 L1528.08 403.17 L1529.17 404.06 L1530.24 404.98 L1531.29 405.94 L1532.31 406.92 L1533.31 407.93 L1534.30 408.97 L1535.26 410.04 L1536.20 411.13 L1537.12 412.24 L1538.02 413.39 L1538.90 414.55 L1539.77 415.74 L1540.62 416.95 L1541.44 418.17 L1542.26 419.42 L1543.05 420.69 L1543.83 421.98 L1544.60 423.28 L1545.34 424.60 L1546.08 425.94 L1546.80 427.29 L1547.50 428.65 L1548.20 430.03 L1548.88 431.42 L1549.55 432.82 L1550.20 434.23 L1550.85 435.65 L1551.48 437.08 L1552.10 438.52 L1552.72 439.96 L1553.32 441.41 L1553.92 442.87 L1554.50 444.33 L1555.08 445.79 L1555.66 447.25 L1556.22 448.72 L1556.78 450.19 L1557.33 451.66 L1557.88 453.13 L1558.42 454.59 L1558.95 456.05 L1559.48 457.52 L1560.01 458.98 L1560.53 460.44 L1561.05 461.89 L1561.56 463.35 L1562.07 464.80 L1562.57 466.25 L1563.07 467.70 L1563.56 469.15 L1564.05 470.60 L1564.53 472.05 L1565.01 473.49 L1565.49 474.93 L1565.96 476.38 L1566.43 477.82 L1566.89 479.26 L1567.35 480.70 L1567.81 482.13 L1568.26 483.57 L1568.71 485.01 L1569.15 486.44 L1569.60 487.87 L1570.03 489.31 L1570.47 490.74 L1570.90 492.17 L1571.32 493.60 L1571.74 495.03 L1572.16 496.46 L1572.58 497.89 L1572.99 499.32 L1573.40 500.75 L1573.81 502.17 L1574.21 503.60 L1574.61 505.03 L1575.01 506.45 L1575.40 507.88 L1575.79 509.31 L1576.18 510.73 L1576.57 512.16 L1576.95 513.58 L1577.33 515.01 L1577.71 516.43 L1578.08 517.86 L1578.46 519.28 L1578.83 520.71 L1579.20 522.14 L1579.56 523.56 L1579.92 524.99 L1580.29 526.42 L1580.64 527.84 L1581.00 529.27 L1581.36 530.70 L1581.71 532.13 L1582.06 533.56 L1582.41 534.99 L1582.76 536.42 L1583.10 537.85 L1583.45 539.28 L1583.79 540.71 L1584.13 542.15 L1584.47 543.58 L1584.81 545.02 L1585.14 546.45 L1585.48 547.89 L1585.81 549.33 L1586.14 550.77 L1586.47 552.21 L1586.80 553.65 L1587.13 555.10 L1587.46 556.54 L1587.79 557.99 L1588.12 559.43 L1588.44 560.88 L1588.77 562.33 L1589.09 563.78 L1589.41 565.24 L1589.73 566.69 L1590.06 568.15 L1590.38 569.61 L1590.70 571.07 L1591.02 572.53 L1591.34 573.99 L1591.66 575.46 L1591.98 576.92 L1592.30 578.39 L1592.62 579.86 L1592.94 581.34 L1593.26 582.81 L1593.58 584.29 L1593.90 585.77 L1594.22 587.25 L1594.54 588.73 L1594.86 590.22 L1595.18 591.71 L1595.50 593.20 L1595.82 594.70 L1596.15 596.19 L1596.47 597.69 L1596.79 599.19 L1597.12 600.70 L1597.44 602.20 L1597.77 603.71 L1598.09 605.23 L1598.42 606.74 L1598.75 608.26 L1599.08 609.78 L1599.41 611.30 L1599.74 612.83 L1600.08 614.36 L1600.41 615.89" fill="none" stroke="#ff0000" stroke-width="1.0" stroke-linejoin="round" shape-rendering="crispEdges"/>
<use href="#cr" x="1" y="0"/>
<use href="#cr" x="0" y="1"/>
<use href="#cr" x="1" y="1"/>
</g>
<g shape-rendering="crispEdges">
<rect x="1375.5" y="61.5" width="223" height="16" fill="#ffffff" stroke="#000000"/>
<rect x="1240.5" y="421.5" width="239" height="16" fill="#ffffff" stroke="#000000"/>
</g>
<text x="1377.3" y="74.0" font-size="14" fill="#008000" text-anchor="start" textLength="219.2" lengthAdjust="spacingAndGlyphs">Gain Margin=-73.813 FG=32.321K</text>
<text x="1242.3" y="434.0" font-size="14" fill="#008000" text-anchor="start" textLength="235.6" lengthAdjust="spacingAndGlyphs">Phase Margin=48.325 FP=1.224MEG</text>
<g font-family='"Liberation Sans", sans-serif'>
<text x="976.3" y="18.0" font-size="9.8" fill="#0000ff" text-anchor="end" textLength="38.6" lengthAdjust="spacingAndGlyphs">120.000</text>
<text x="976.3" y="34.0" font-size="9.8" fill="#0000ff" text-anchor="end" textLength="37.8" lengthAdjust="spacingAndGlyphs">110.000</text>
<text x="976.3" y="49.0" font-size="9.8" fill="#0000ff" text-anchor="end" textLength="38.6" lengthAdjust="spacingAndGlyphs">100.000</text>
<text x="976.3" y="65.0" font-size="9.8" fill="#0000ff" text-anchor="end" textLength="32.7" lengthAdjust="spacingAndGlyphs">90.000</text>
<text x="976.3" y="81.0" font-size="9.8" fill="#0000ff" text-anchor="end" textLength="32.7" lengthAdjust="spacingAndGlyphs">80.000</text>
<text x="976.3" y="96.0" font-size="9.8" fill="#0000ff" text-anchor="end" textLength="32.7" lengthAdjust="spacingAndGlyphs">70.000</text>
<text x="976.3" y="112.0" font-size="9.8" fill="#0000ff" text-anchor="end" textLength="32.7" lengthAdjust="spacingAndGlyphs">60.000</text>
<text x="976.3" y="128.0" font-size="9.8" fill="#0000ff" text-anchor="end" textLength="32.7" lengthAdjust="spacingAndGlyphs">50.000</text>
<text x="976.3" y="143.0" font-size="9.8" fill="#0000ff" text-anchor="end" textLength="32.7" lengthAdjust="spacingAndGlyphs">40.000</text>
<text x="976.3" y="159.0" font-size="9.8" fill="#0000ff" text-anchor="end" textLength="32.7" lengthAdjust="spacingAndGlyphs">30.000</text>
<text x="976.3" y="175.0" font-size="9.8" fill="#0000ff" text-anchor="end" textLength="32.7" lengthAdjust="spacingAndGlyphs">20.000</text>
<text x="976.3" y="191.0" font-size="9.8" fill="#0000ff" text-anchor="end" textLength="32.7" lengthAdjust="spacingAndGlyphs">10.000</text>
<text x="976.3" y="206.0" font-size="9.8" fill="#0000ff" text-anchor="end" textLength="26.7" lengthAdjust="spacingAndGlyphs">0.000</text>
<text x="976.3" y="222.0" font-size="9.8" fill="#0000ff" text-anchor="end" textLength="36.2" lengthAdjust="spacingAndGlyphs">-10.000</text>
<text x="976.3" y="238.0" font-size="9.8" fill="#0000ff" text-anchor="end" textLength="36.2" lengthAdjust="spacingAndGlyphs">-20.000</text>
<text x="976.3" y="253.0" font-size="9.8" fill="#0000ff" text-anchor="end" textLength="36.2" lengthAdjust="spacingAndGlyphs">-30.000</text>
<text x="976.3" y="269.0" font-size="9.8" fill="#0000ff" text-anchor="end" textLength="36.2" lengthAdjust="spacingAndGlyphs">-40.000</text>
<text x="976.3" y="285.0" font-size="9.8" fill="#0000ff" text-anchor="end" textLength="36.2" lengthAdjust="spacingAndGlyphs">-50.000</text>
<text x="976.3" y="300.0" font-size="9.8" fill="#0000ff" text-anchor="end" textLength="36.2" lengthAdjust="spacingAndGlyphs">-60.000</text>
<text x="976.3" y="316.0" font-size="9.8" fill="#0000ff" text-anchor="end" textLength="36.2" lengthAdjust="spacingAndGlyphs">-70.000</text>
<text x="976.3" y="332.0" font-size="9.8" fill="#0000ff" text-anchor="end" textLength="36.2" lengthAdjust="spacingAndGlyphs">-80.000</text>
<text x="976.3" y="347.0" font-size="9.8" fill="#0000ff" text-anchor="end" textLength="36.2" lengthAdjust="spacingAndGlyphs">-90.000</text>
<text x="976.3" y="363.0" font-size="9.8" fill="#0000ff" text-anchor="end" textLength="42.2" lengthAdjust="spacingAndGlyphs">-100.000</text>
<text x="976.3" y="379.0" font-size="9.8" fill="#0000ff" text-anchor="end" textLength="41.4" lengthAdjust="spacingAndGlyphs">-110.000</text>
<text x="976.3" y="394.0" font-size="9.8" fill="#0000ff" text-anchor="end" textLength="42.2" lengthAdjust="spacingAndGlyphs">-120.000</text>
<text x="976.3" y="410.0" font-size="9.8" fill="#0000ff" text-anchor="end" textLength="42.2" lengthAdjust="spacingAndGlyphs">-130.000</text>
<text x="976.3" y="426.0" font-size="9.8" fill="#0000ff" text-anchor="end" textLength="42.2" lengthAdjust="spacingAndGlyphs">-140.000</text>
<text x="976.3" y="441.0" font-size="9.8" fill="#0000ff" text-anchor="end" textLength="42.2" lengthAdjust="spacingAndGlyphs">-150.000</text>
<text x="976.3" y="457.0" font-size="9.8" fill="#0000ff" text-anchor="end" textLength="42.2" lengthAdjust="spacingAndGlyphs">-160.000</text>
<text x="976.3" y="473.0" font-size="9.8" fill="#0000ff" text-anchor="end" textLength="42.2" lengthAdjust="spacingAndGlyphs">-170.000</text>
<text x="976.3" y="489.0" font-size="9.8" fill="#0000ff" text-anchor="end" textLength="42.2" lengthAdjust="spacingAndGlyphs">-180.000</text>
<text x="976.3" y="504.0" font-size="9.8" fill="#0000ff" text-anchor="end" textLength="42.2" lengthAdjust="spacingAndGlyphs">-190.000</text>
<text x="976.3" y="520.0" font-size="9.8" fill="#0000ff" text-anchor="end" textLength="42.2" lengthAdjust="spacingAndGlyphs">-200.000</text>
<text x="976.3" y="536.0" font-size="9.8" fill="#0000ff" text-anchor="end" textLength="42.2" lengthAdjust="spacingAndGlyphs">-210.000</text>
<text x="976.3" y="551.0" font-size="9.8" fill="#0000ff" text-anchor="end" textLength="42.2" lengthAdjust="spacingAndGlyphs">-220.000</text>
<text x="976.3" y="567.0" font-size="9.8" fill="#0000ff" text-anchor="end" textLength="42.2" lengthAdjust="spacingAndGlyphs">-230.000</text>
<text x="976.3" y="583.0" font-size="9.8" fill="#0000ff" text-anchor="end" textLength="42.2" lengthAdjust="spacingAndGlyphs">-240.000</text>
<text x="976.3" y="598.0" font-size="9.8" fill="#0000ff" text-anchor="end" textLength="42.2" lengthAdjust="spacingAndGlyphs">-250.000</text>
<text x="976.3" y="614.0" font-size="9.8" fill="#0000ff" text-anchor="end" textLength="42.2" lengthAdjust="spacingAndGlyphs">-260.000</text>
<text x="982.3" y="621.0" font-size="9.8" fill="#0000ff" text-anchor="middle" textLength="5.8" lengthAdjust="spacingAndGlyphs">1</text>
<text x="1004.5" y="621.0" font-size="9.8" fill="#0000ff" text-anchor="middle" textLength="5.8" lengthAdjust="spacingAndGlyphs">2</text>
<text x="1036.5" y="621.0" font-size="9.8" fill="#0000ff" text-anchor="middle" textLength="5.8" lengthAdjust="spacingAndGlyphs">5</text>
<text x="1060.5" y="621.0" font-size="9.8" fill="#0000ff" text-anchor="middle" textLength="11.6" lengthAdjust="spacingAndGlyphs">10</text>
<text x="1085.5" y="621.0" font-size="9.8" fill="#0000ff" text-anchor="middle" textLength="11.6" lengthAdjust="spacingAndGlyphs">20</text>
<text x="1117.5" y="621.0" font-size="9.8" fill="#0000ff" text-anchor="middle" textLength="11.6" lengthAdjust="spacingAndGlyphs">50</text>
<text x="1142.5" y="621.0" font-size="9.8" fill="#0000ff" text-anchor="middle" textLength="17.4" lengthAdjust="spacingAndGlyphs">100</text>
<text x="1166.5" y="621.0" font-size="9.8" fill="#0000ff" text-anchor="middle" textLength="17.4" lengthAdjust="spacingAndGlyphs">200</text>
<text x="1199.5" y="621.0" font-size="9.8" fill="#0000ff" text-anchor="middle" textLength="17.4" lengthAdjust="spacingAndGlyphs">500</text>
<text x="1223.5" y="621.0" font-size="9.8" fill="#0000ff" text-anchor="middle" textLength="12.8" lengthAdjust="spacingAndGlyphs">1K</text>
<text x="1248.5" y="621.0" font-size="9.8" fill="#0000ff" text-anchor="middle" textLength="12.8" lengthAdjust="spacingAndGlyphs">2K</text>
<text x="1280.5" y="621.0" font-size="9.8" fill="#0000ff" text-anchor="middle" textLength="12.8" lengthAdjust="spacingAndGlyphs">5K</text>
<text x="1305.5" y="621.0" font-size="9.8" fill="#0000ff" text-anchor="middle" textLength="18.6" lengthAdjust="spacingAndGlyphs">10K</text>
<text x="1329.5" y="621.0" font-size="9.8" fill="#0000ff" text-anchor="middle" textLength="18.6" lengthAdjust="spacingAndGlyphs">20K</text>
<text x="1386.5" y="621.0" font-size="9.8" fill="#0000ff" text-anchor="middle" textLength="24.4" lengthAdjust="spacingAndGlyphs">100K</text>
<text x="1443.5" y="621.0" font-size="9.8" fill="#0000ff" text-anchor="middle" textLength="24.4" lengthAdjust="spacingAndGlyphs">500K</text>
<text x="1467.5" y="621.0" font-size="9.8" fill="#0000ff" text-anchor="middle" textLength="14.5" lengthAdjust="spacingAndGlyphs">1M</text>
<text x="1492.5" y="621.0" font-size="9.8" fill="#0000ff" text-anchor="middle" textLength="14.5" lengthAdjust="spacingAndGlyphs">2M</text>
<text x="1524.5" y="621.0" font-size="9.8" fill="#0000ff" text-anchor="middle" textLength="14.5" lengthAdjust="spacingAndGlyphs">5M</text>
<text x="1549.5" y="621.0" font-size="9.8" fill="#0000ff" text-anchor="middle" textLength="20.3" lengthAdjust="spacingAndGlyphs">10M</text>
<text x="1573.5" y="621.0" font-size="9.8" fill="#0000ff" text-anchor="middle" textLength="20.3" lengthAdjust="spacingAndGlyphs">20M</text>
<text x="1630.5" y="621.0" font-size="9.8" fill="#0000ff" text-anchor="middle" textLength="26.1" lengthAdjust="spacingAndGlyphs">100M</text>
<text x="1699.5" y="621.0" font-size="9.8" fill="#0000ff" text-anchor="middle" textLength="26.1" lengthAdjust="spacingAndGlyphs">700M</text>
<text x="979.0" y="634.0" font-size="9.8" fill="#0000ff" text-anchor="start" textLength="66.5" lengthAdjust="spacingAndGlyphs">dB(LoopGain)</text>
<rect x="979" y="635" width="66" height="1" fill="#0000ff"/>
<text x="1158.2" y="634.0" font-size="9.8" fill="#ff0000" text-anchor="start" textLength="112.2" lengthAdjust="spacingAndGlyphs">ph(LoopGain) (Degrees)</text>
<text x="1273.8" y="647.5" font-size="9.8" fill="#0000ff" text-anchor="start" textLength="26.8" lengthAdjust="spacingAndGlyphs">F (Hz)</text>
<text x="1271.8" y="11.0" font-size="9.7" fill="#0000ff" text-anchor="start" textLength="135.2" lengthAdjust="spacingAndGlyphs">УК Сухов 1993(1).CIR OPEN</text>
</g>
</svg>
</body></html>
